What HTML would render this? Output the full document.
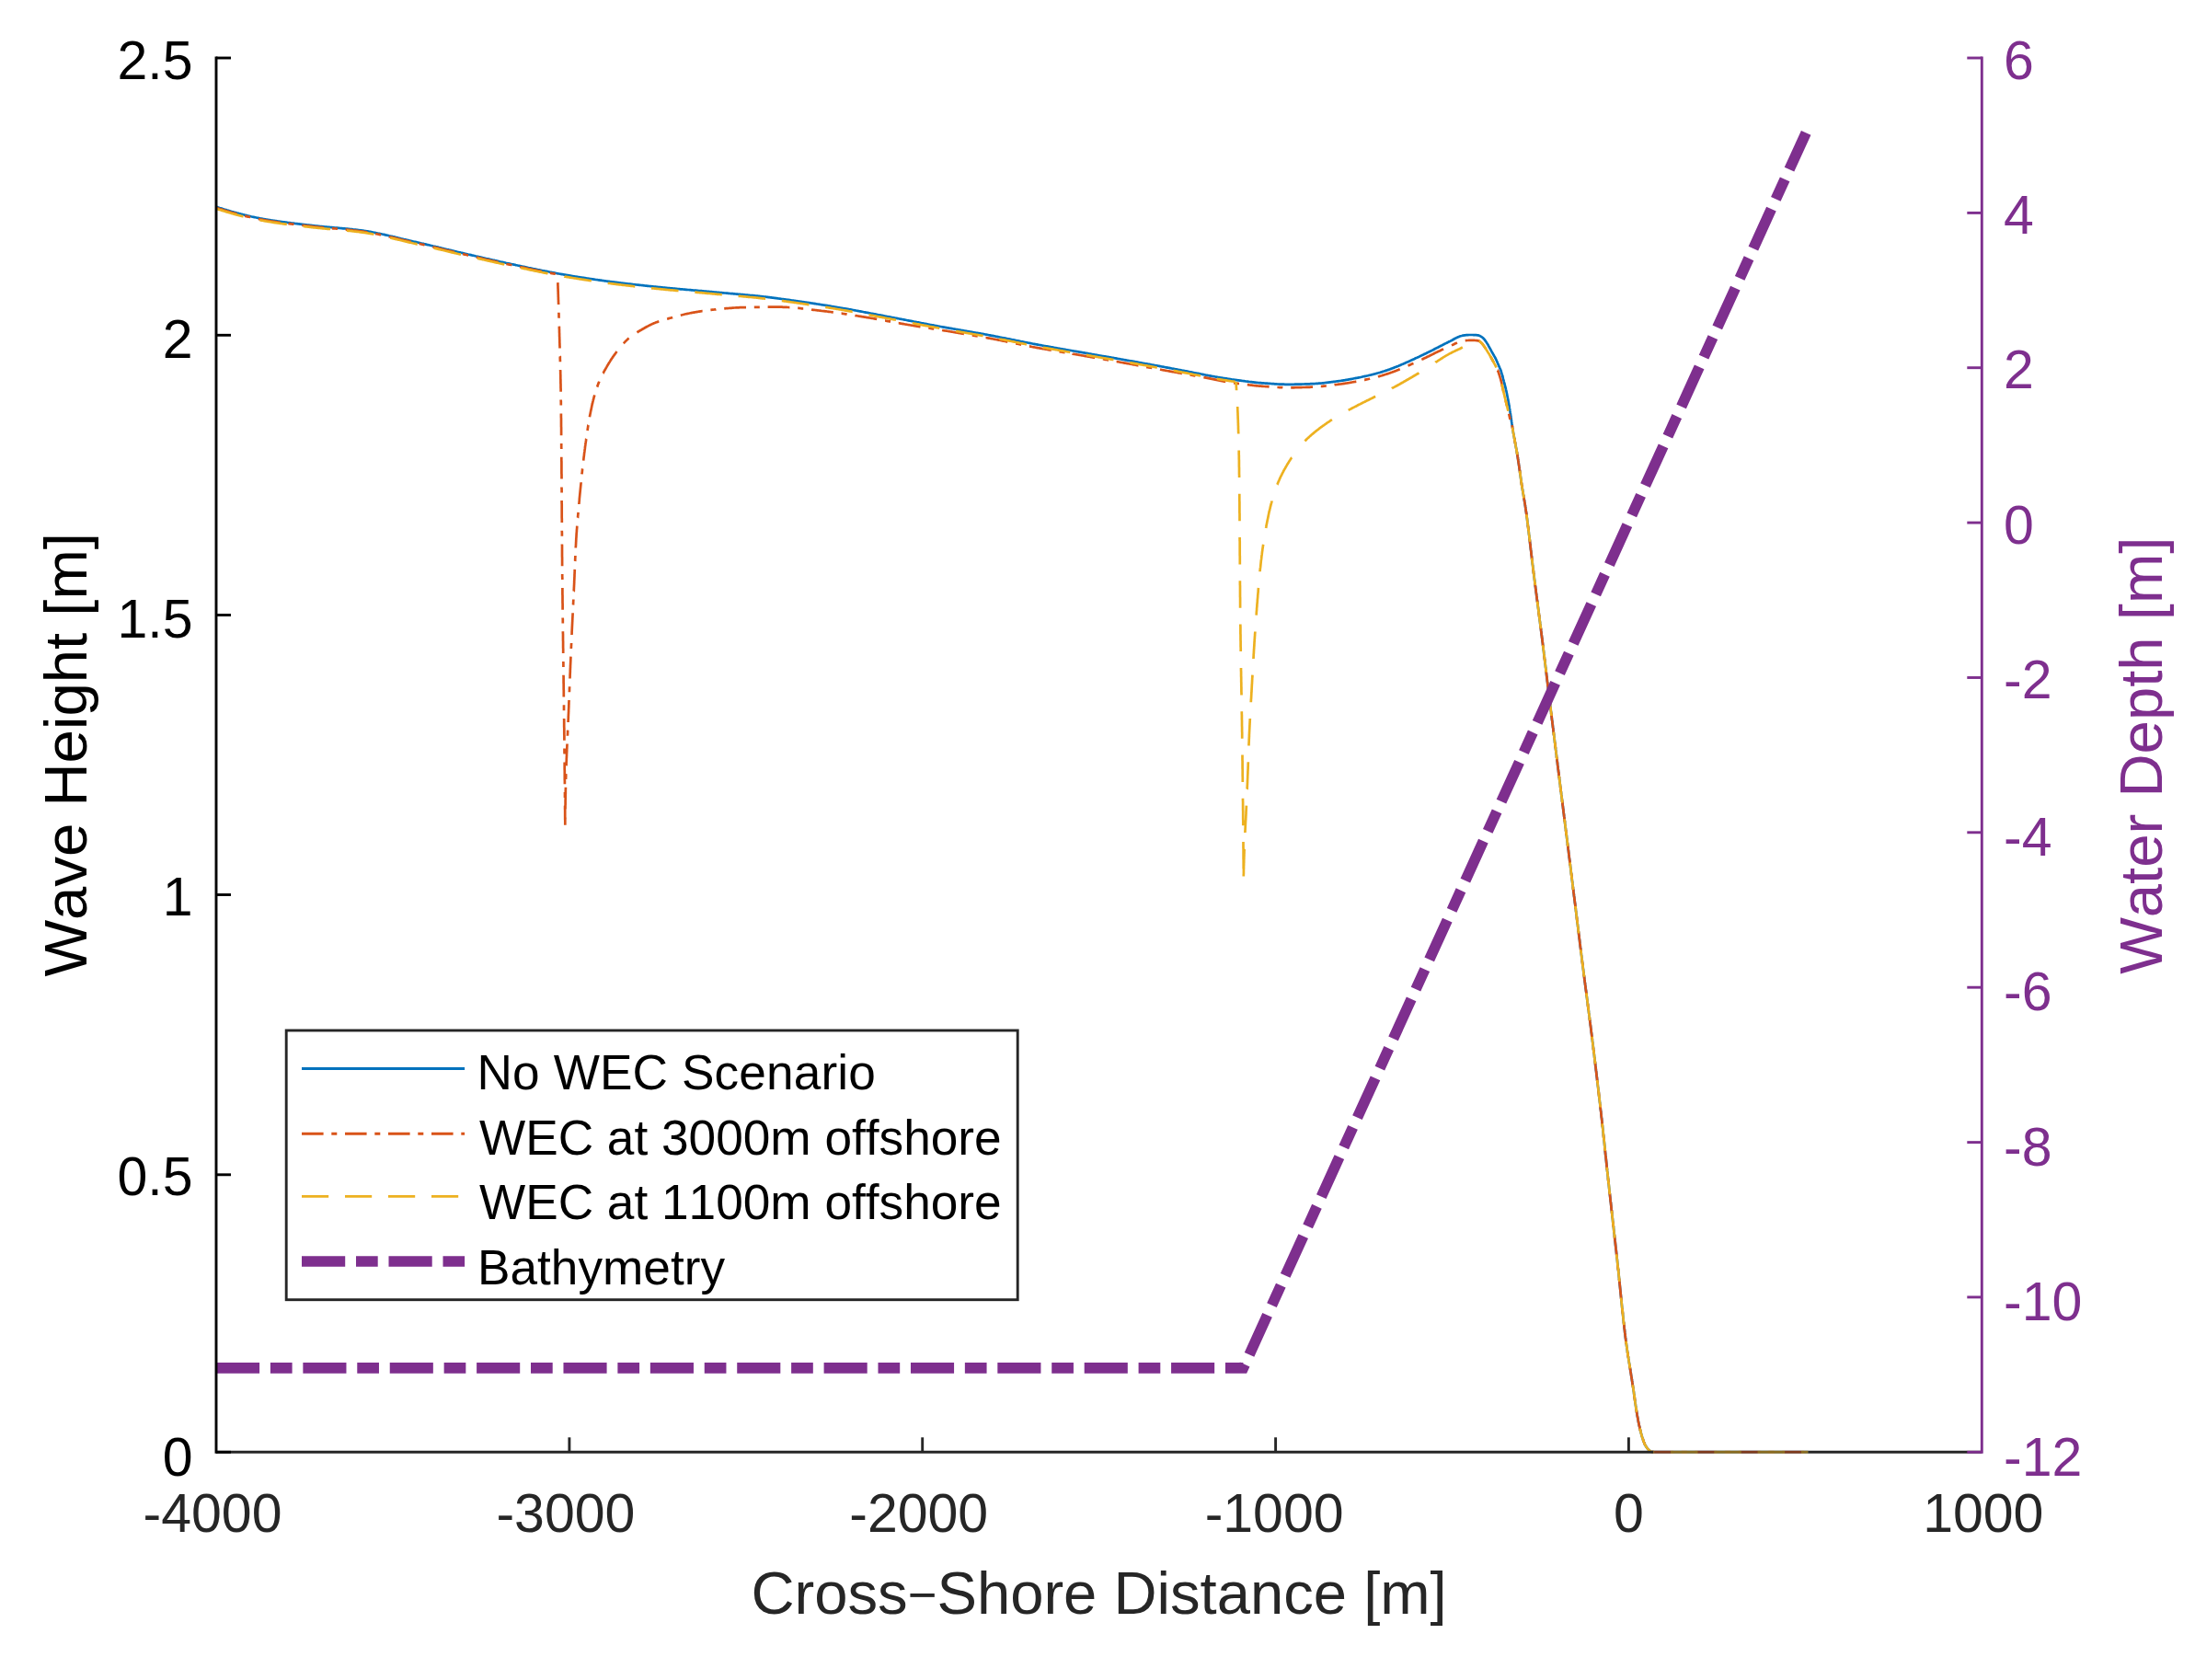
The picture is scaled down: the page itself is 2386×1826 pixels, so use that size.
<!DOCTYPE html>
<html lang="en"><head><meta charset="utf-8"><title>Wave height and bathymetry</title>
<style>html,body{margin:0;padding:0;background:#fff}svg{display:block}text{font-family:"Liberation Sans",sans-serif;font-kerning:none;font-variant-ligatures:none}</style></head><body>
<svg width="2386" height="1826" viewBox="0 0 2386 1826">
<rect width="2386" height="1826" fill="#fff"/>
<g fill="none" stroke-width="2.7" stroke-linejoin="round">
<path d="M235.0 224.8 236.0 225.1 236.9 225.4 237.9 225.7 238.8 226.0 239.8 226.3 240.8 226.6 241.7 226.9 242.7 227.2 243.6 227.5 244.6 227.8 245.6 228.1 246.5 228.4 247.5 228.7 248.4 228.9 249.4 229.2 250.4 229.5 251.3 229.8 252.3 230.1 253.3 230.3 254.2 230.6 255.2 230.9 256.2 231.1 257.1 231.4 258.1 231.7 259.1 231.9 260.0 232.2 261.0 232.4 262.0 232.7 262.9 232.9 263.9 233.2 264.9 233.4 265.9 233.7 266.8 233.9 267.8 234.1 268.8 234.4 269.7 234.6 270.7 234.8 271.7 235.0 272.7 235.3 273.6 235.5 274.6 235.7 275.6 235.9 276.6 236.1 277.5 236.3 278.5 236.5 279.5 236.7 280.5 236.9 281.5 237.1 282.4 237.3 283.4 237.5 284.4 237.6 285.4 237.8 286.4 238.0 287.3 238.2 288.3 238.3 289.3 238.5 290.3 238.7 291.3 238.8 292.3 239.0 293.2 239.1 294.2 239.3 295.2 239.5 296.2 239.6 297.2 239.8 298.2 239.9 299.2 240.1 300.2 240.2 301.1 240.3 302.1 240.5 303.1 240.6 304.1 240.8 305.1 240.9 306.1 241.0 307.1 241.2 308.1 241.3 309.1 241.4 310.1 241.6 311.1 241.7 312.1 241.8 313.1 242.0 314.0 242.1 315.0 242.2 316.0 242.3 317.0 242.5 318.0 242.6 319.0 242.7 320.0 242.8 321.0 243.0 322.0 243.1 323.0 243.2 324.0 243.3 325.0 243.4 326.0 243.6 327.0 243.7 328.0 243.8 329.0 243.9 330.0 244.0 331.0 244.1 332.0 244.3 333.0 244.4 334.0 244.5 334.9 244.6 335.9 244.7 336.9 244.8 337.9 244.9 338.9 245.1 339.9 245.2 340.9 245.3 341.9 245.4 342.9 245.5 343.9 245.6 344.9 245.7 345.9 245.8 346.9 245.9 347.9 246.0 348.9 246.1 349.9 246.2 350.9 246.3 351.9 246.4 352.9 246.5 353.9 246.6 354.9 246.7 355.9 246.8 356.9 246.8 357.9 246.9 358.9 247.0 359.9 247.1 360.9 247.2 361.9 247.3 362.9 247.4 363.9 247.5 364.9 247.5 365.9 247.6 366.8 247.7 367.8 247.8 368.8 247.9 369.8 248.0 370.8 248.1 371.8 248.2 372.8 248.3 373.8 248.4 374.8 248.4 375.8 248.5 376.8 248.6 377.8 248.7 378.8 248.8 379.8 248.9 380.8 249.0 381.8 249.1 382.8 249.2 383.8 249.4 384.8 249.5 385.8 249.6 386.8 249.7 387.8 249.8 388.7 249.9 389.7 250.0 390.7 250.2 391.7 250.3 392.7 250.4 393.7 250.6 394.7 250.7 395.7 250.8 396.6 251.0 397.6 251.1 398.6 251.3 399.6 251.4 400.6 251.6 401.6 251.8 402.6 251.9 403.5 252.1 404.5 252.3 405.5 252.5 406.5 252.7 407.5 252.9 408.4 253.1 409.4 253.3 410.4 253.5 411.4 253.7 412.4 253.9 413.3 254.1 414.3 254.3 415.3 254.5 416.3 254.7 417.3 254.9 418.2 255.1 419.2 255.4 420.2 255.6 421.2 255.8 422.1 256.0 423.1 256.3 424.1 256.5 425.1 256.7 426.0 256.9 427.0 257.2 428.0 257.4 429.0 257.6 430.0 257.9 430.9 258.1 431.9 258.3 432.9 258.6 433.9 258.8 434.8 259.0 435.8 259.3 436.8 259.5 437.8 259.7 438.7 260.0 439.7 260.2 440.7 260.4 441.7 260.7 442.6 260.9 443.6 261.1 444.6 261.4 445.6 261.6 446.5 261.8 447.5 262.0 448.5 262.3 449.5 262.5 450.4 262.7 451.4 262.9 452.4 263.1 453.4 263.4 454.3 263.6 455.3 263.8 456.3 264.0 457.3 264.3 458.2 264.5 459.2 264.7 460.2 264.9 461.2 265.2 462.1 265.4 463.1 265.6 464.1 265.9 465.1 266.1 466.0 266.3 467.0 266.5 468.0 266.8 469.0 267.0 469.9 267.2 470.9 267.5 471.9 267.7 472.8 267.9 473.8 268.2 474.8 268.4 475.8 268.6 476.7 268.9 477.7 269.1 478.7 269.3 479.7 269.6 480.6 269.8 481.6 270.0 482.6 270.3 483.6 270.5 484.5 270.7 485.5 271.0 486.5 271.2 487.4 271.4 488.4 271.7 489.4 271.9 490.4 272.1 491.3 272.4 492.3 272.6 493.3 272.8 494.3 273.1 495.2 273.3 496.2 273.5 497.2 273.8 498.2 274.0 499.1 274.2 500.1 274.4 501.1 274.7 502.1 274.9 503.0 275.1 504.0 275.3 505.0 275.6 506.0 275.8 506.9 276.0 507.9 276.2 508.9 276.5 509.9 276.7 510.8 276.9 511.8 277.1 512.8 277.4 513.8 277.6 514.7 277.8 515.7 278.0 516.7 278.3 517.7 278.5 518.6 278.7 519.6 278.9 520.6 279.2 521.6 279.4 522.5 279.6 523.5 279.8 524.5 280.1 525.5 280.3 526.4 280.5 527.4 280.7 528.4 281.0 529.4 281.2 530.3 281.4 531.3 281.6 532.3 281.8 533.3 282.1 534.2 282.3 535.2 282.5 536.2 282.7 537.2 282.9 538.1 283.2 539.1 283.4 540.1 283.6 541.1 283.8 542.1 284.0 543.0 284.3 544.0 284.5 545.0 284.7 546.0 284.9 546.9 285.1 547.9 285.3 548.9 285.5 549.9 285.8 550.8 286.0 551.8 286.2 552.8 286.4 553.8 286.6 554.8 286.8 555.7 287.0 556.7 287.2 557.7 287.4 558.7 287.6 559.7 287.8 560.6 288.1 561.6 288.3 562.6 288.5 563.6 288.7 564.5 288.9 565.5 289.1 566.5 289.3 567.5 289.5 568.5 289.7 569.4 289.9 570.4 290.1 571.4 290.3 572.4 290.5 573.4 290.7 574.3 291.0 575.3 291.2 576.3 291.4 577.3 291.6 578.3 291.8 579.2 292.0 580.2 292.2 581.2 292.4 582.2 292.6 583.2 292.8 584.1 293.0 585.1 293.2 586.1 293.4 587.1 293.6 588.1 293.8 589.0 294.0 590.0 294.2 591.0 294.4 592.0 294.6 593.0 294.8 594.0 294.9 594.9 295.1 595.9 295.3 596.9 295.5 597.9 295.7 598.9 295.9 599.9 296.1 600.8 296.3 601.8 296.4 602.8 296.6 603.8 296.8 604.8 297.0 605.8 297.2 606.7 297.4 607.7 297.5 608.7 297.7 609.7 297.9 610.7 298.1 611.7 298.2 612.6 298.4 613.6 298.6 614.6 298.7 615.6 298.9 616.6 299.1 617.6 299.2 618.6 299.4 619.6 299.6 620.5 299.7 621.5 299.9 622.5 300.0 623.5 300.2 624.5 300.4 625.5 300.5 626.5 300.7 627.5 300.8 628.4 301.0 629.4 301.2 630.4 301.3 631.4 301.5 632.4 301.6 633.4 301.8 634.4 301.9 635.4 302.1 636.4 302.2 637.3 302.4 638.3 302.5 639.3 302.7 640.3 302.8 641.3 303.0 642.3 303.1 643.3 303.3 644.3 303.4 645.3 303.6 646.3 303.7 647.2 303.9 648.2 304.0 649.2 304.1 650.2 304.3 651.2 304.4 652.2 304.6 653.2 304.7 654.2 304.8 655.2 305.0 656.2 305.1 657.2 305.3 658.1 305.4 659.1 305.5 660.1 305.7 661.1 305.8 662.1 305.9 663.1 306.0 664.1 306.2 665.1 306.3 666.1 306.4 667.1 306.6 668.1 306.7 669.1 306.8 670.1 306.9 671.0 307.1 672.0 307.2 673.0 307.3 674.0 307.4 675.0 307.5 676.0 307.7 677.0 307.8 678.0 307.9 679.0 308.0 680.0 308.1 681.0 308.3 682.0 308.4 683.0 308.5 684.0 308.6 685.0 308.7 685.9 308.8 686.9 308.9 687.9 309.0 688.9 309.2 689.9 309.3 690.9 309.4 691.9 309.5 692.9 309.6 693.9 309.7 694.9 309.8 695.9 309.9 696.9 310.0 697.9 310.1 698.9 310.2 699.9 310.3 700.9 310.5 701.9 310.6 702.9 310.7 703.9 310.8 704.9 310.9 705.9 311.0 706.8 311.1 707.8 311.2 708.8 311.3 709.8 311.4 710.8 311.5 711.8 311.6 712.8 311.7 713.8 311.8 714.8 311.9 715.8 312.0 716.8 312.1 717.8 312.2 718.8 312.3 719.8 312.4 720.8 312.5 721.8 312.6 722.8 312.7 723.8 312.8 724.8 312.9 725.8 313.0 726.8 313.1 727.8 313.2 728.8 313.3 729.7 313.3 730.7 313.4 731.7 313.5 732.7 313.6 733.7 313.7 734.7 313.8 735.7 313.9 736.7 314.0 737.7 314.1 738.7 314.2 739.7 314.3 740.7 314.3 741.7 314.4 742.7 314.5 743.7 314.6 744.7 314.7 745.7 314.8 746.7 314.9 747.7 315.0 748.7 315.0 749.7 315.1 750.7 315.2 751.7 315.3 752.7 315.4 753.7 315.5 754.7 315.6 755.7 315.6 756.7 315.7 757.7 315.8 758.7 315.9 759.7 316.0 760.6 316.1 761.6 316.2 762.6 316.2 763.6 316.3 764.6 316.4 765.6 316.5 766.6 316.6 767.6 316.7 768.6 316.8 769.6 316.9 770.6 316.9 771.6 317.0 772.6 317.1 773.6 317.2 774.6 317.3 775.6 317.4 776.6 317.5 777.6 317.6 778.6 317.7 779.6 317.8 780.6 317.8 781.6 317.9 782.6 318.0 783.6 318.1 784.6 318.2 785.6 318.3 786.6 318.4 787.6 318.5 788.6 318.5 789.6 318.6 790.6 318.7 791.6 318.8 792.5 318.9 793.5 319.0 794.5 319.1 795.5 319.2 796.5 319.2 797.5 319.3 798.5 319.4 799.5 319.5 800.5 319.6 801.5 319.7 802.5 319.8 803.5 319.9 804.5 319.9 805.5 320.0 806.5 320.1 807.5 320.2 808.5 320.3 809.5 320.4 810.5 320.5 811.5 320.6 812.5 320.7 813.5 320.8 814.5 320.9 815.5 321.0 816.5 321.0 817.5 321.1 818.5 321.2 819.5 321.3 820.5 321.4 821.4 321.5 822.4 321.6 823.4 321.7 824.4 321.8 825.4 321.9 826.4 322.1 827.4 322.2 828.4 322.3 829.4 322.4 830.4 322.5 831.4 322.6 832.4 322.7 833.4 322.8 834.4 322.9 835.4 323.1 836.4 323.2 837.4 323.3 838.3 323.4 839.3 323.6 840.3 323.7 841.3 323.8 842.3 323.9 843.3 324.1 844.3 324.2 845.3 324.3 846.3 324.5 847.3 324.6 848.3 324.7 849.3 324.9 850.3 325.0 851.2 325.1 852.2 325.3 853.2 325.4 854.2 325.5 855.2 325.7 856.2 325.8 857.2 325.9 858.2 326.1 859.2 326.2 860.2 326.4 861.2 326.5 862.2 326.6 863.1 326.8 864.1 326.9 865.1 327.0 866.1 327.2 867.1 327.3 868.1 327.5 869.1 327.6 870.1 327.8 871.1 327.9 872.1 328.0 873.1 328.2 874.0 328.3 875.0 328.5 876.0 328.6 877.0 328.8 878.0 328.9 879.0 329.1 880.0 329.2 881.0 329.3 882.0 329.5 883.0 329.6 883.9 329.8 884.9 329.9 885.9 330.1 886.9 330.2 887.9 330.4 888.9 330.5 889.9 330.7 890.9 330.8 891.9 331.0 892.8 331.2 893.8 331.3 894.8 331.5 895.8 331.6 896.8 331.8 897.8 331.9 898.8 332.1 899.8 332.2 900.8 332.4 901.7 332.6 902.7 332.7 903.7 332.9 904.7 333.0 905.7 333.2 906.7 333.4 907.7 333.5 908.7 333.7 909.6 333.9 910.6 334.0 911.6 334.2 912.6 334.4 913.6 334.5 914.6 334.7 915.6 334.9 916.5 335.0 917.5 335.2 918.5 335.4 919.5 335.6 920.5 335.7 921.5 335.9 922.5 336.1 923.4 336.3 924.4 336.4 925.4 336.6 926.4 336.8 927.4 337.0 928.4 337.2 929.3 337.3 930.3 337.5 931.3 337.7 932.3 337.9 933.3 338.1 934.3 338.3 935.2 338.4 936.2 338.6 937.2 338.8 938.2 339.0 939.2 339.2 940.2 339.4 941.1 339.6 942.1 339.7 943.1 339.9 944.1 340.1 945.1 340.3 946.1 340.5 947.0 340.7 948.0 340.9 949.0 341.1 950.0 341.2 951.0 341.4 952.0 341.6 952.9 341.8 953.9 342.0 954.9 342.2 955.9 342.4 956.9 342.6 957.9 342.7 958.8 342.9 959.8 343.1 960.8 343.3 961.8 343.5 962.8 343.7 963.8 343.9 964.7 344.0 965.7 344.2 966.7 344.4 967.7 344.6 968.7 344.8 969.7 345.0 970.6 345.2 971.6 345.3 972.6 345.5 973.6 345.7 974.6 345.9 975.6 346.1 976.5 346.3 977.5 346.5 978.5 346.7 979.5 346.8 980.5 347.0 981.5 347.2 982.4 347.4 983.4 347.6 984.4 347.8 985.4 348.0 986.4 348.2 987.3 348.4 988.3 348.6 989.3 348.7 990.3 348.9 991.3 349.1 992.3 349.3 993.2 349.5 994.2 349.7 995.2 349.9 996.2 350.1 997.2 350.3 998.2 350.4 999.1 350.6 1000.1 350.8 1001.1 351.0 1002.1 351.2 1003.1 351.4 1004.1 351.6 1005.0 351.8 1006.0 351.9 1007.0 352.1 1008.0 352.3 1009.0 352.5 1010.0 352.7 1010.9 352.9 1011.9 353.0 1012.9 353.2 1013.9 353.4 1014.9 353.6 1015.9 353.8 1016.8 354.0 1017.8 354.1 1018.8 354.3 1019.8 354.5 1020.8 354.7 1021.8 354.9 1022.7 355.0 1023.7 355.2 1024.7 355.4 1025.7 355.6 1026.7 355.7 1027.7 355.9 1028.7 356.1 1029.6 356.3 1030.6 356.4 1031.6 356.6 1032.6 356.8 1033.6 356.9 1034.6 357.1 1035.6 357.3 1036.5 357.5 1037.5 357.6 1038.5 357.8 1039.5 358.0 1040.5 358.1 1041.5 358.3 1042.5 358.5 1043.5 358.6 1044.4 358.8 1045.4 359.0 1046.4 359.1 1047.4 359.3 1048.4 359.5 1049.4 359.7 1050.4 359.8 1051.3 360.0 1052.3 360.2 1053.3 360.3 1054.3 360.5 1055.3 360.7 1056.3 360.8 1057.3 361.0 1058.2 361.2 1059.2 361.4 1060.2 361.5 1061.2 361.7 1062.2 361.9 1063.2 362.1 1064.2 362.2 1065.1 362.4 1066.1 362.6 1067.1 362.8 1068.1 362.9 1069.1 363.1 1070.1 363.3 1071.1 363.5 1072.0 363.6 1073.0 363.8 1074.0 364.0 1075.0 364.2 1076.0 364.4 1077.0 364.6 1077.9 364.8 1078.9 364.9 1079.9 365.1 1080.9 365.3 1081.9 365.5 1082.8 365.7 1083.8 365.9 1084.8 366.1 1085.8 366.3 1086.8 366.5 1087.8 366.7 1088.7 366.9 1089.7 367.0 1090.7 367.2 1091.7 367.4 1092.7 367.6 1093.6 367.8 1094.6 368.0 1095.6 368.2 1096.6 368.4 1097.6 368.6 1098.6 368.8 1099.5 369.0 1100.5 369.2 1101.5 369.4 1102.5 369.6 1103.5 369.8 1104.4 370.0 1105.4 370.2 1106.4 370.4 1107.4 370.6 1108.4 370.8 1109.3 371.0 1110.3 371.2 1111.3 371.4 1112.3 371.6 1113.3 371.8 1114.3 372.0 1115.2 372.2 1116.2 372.3 1117.2 372.5 1118.2 372.7 1119.2 372.9 1120.1 373.1 1121.1 373.3 1122.1 373.5 1123.1 373.7 1124.1 373.9 1125.1 374.1 1126.0 374.2 1127.0 374.4 1128.0 374.6 1129.0 374.8 1130.0 375.0 1131.0 375.1 1131.9 375.3 1132.9 375.5 1133.9 375.7 1134.9 375.9 1135.9 376.0 1136.9 376.2 1137.9 376.4 1138.8 376.6 1139.8 376.7 1140.8 376.9 1141.8 377.1 1142.8 377.3 1143.8 377.4 1144.7 377.6 1145.7 377.8 1146.7 378.0 1147.7 378.1 1148.7 378.3 1149.7 378.5 1150.7 378.7 1151.6 378.8 1152.6 379.0 1153.6 379.2 1154.6 379.3 1155.6 379.5 1156.6 379.7 1157.6 379.8 1158.6 380.0 1159.5 380.2 1160.5 380.4 1161.5 380.5 1162.5 380.7 1163.5 380.9 1164.5 381.0 1165.5 381.2 1166.4 381.4 1167.4 381.5 1168.4 381.7 1169.4 381.9 1170.4 382.1 1171.4 382.2 1172.4 382.4 1173.3 382.6 1174.3 382.7 1175.3 382.9 1176.3 383.1 1177.3 383.3 1178.3 383.4 1179.3 383.6 1180.2 383.8 1181.2 383.9 1182.2 384.1 1183.2 384.3 1184.2 384.5 1185.2 384.6 1186.2 384.8 1187.1 385.0 1188.1 385.2 1189.1 385.3 1190.1 385.5 1191.1 385.7 1192.1 385.8 1193.1 386.0 1194.0 386.2 1195.0 386.4 1196.0 386.5 1197.0 386.7 1198.0 386.9 1199.0 387.0 1200.0 387.2 1200.9 387.4 1201.9 387.6 1202.9 387.7 1203.9 387.9 1204.9 388.1 1205.9 388.2 1206.9 388.4 1207.8 388.6 1208.8 388.8 1209.8 388.9 1210.8 389.1 1211.8 389.3 1212.8 389.4 1213.8 389.6 1214.7 389.8 1215.7 390.0 1216.7 390.1 1217.7 390.3 1218.7 390.5 1219.7 390.7 1220.7 390.8 1221.6 391.0 1222.6 391.2 1223.6 391.3 1224.6 391.5 1225.6 391.7 1226.6 391.9 1227.6 392.0 1228.5 392.2 1229.5 392.4 1230.5 392.6 1231.5 392.7 1232.5 392.9 1233.5 393.1 1234.5 393.3 1235.4 393.4 1236.4 393.6 1237.4 393.8 1238.4 394.0 1239.4 394.2 1240.4 394.3 1241.3 394.5 1242.3 394.7 1243.3 394.9 1244.3 395.0 1245.3 395.2 1246.3 395.4 1247.3 395.6 1248.2 395.8 1249.2 395.9 1250.2 396.1 1251.2 396.3 1252.2 396.5 1253.2 396.7 1254.1 396.8 1255.1 397.0 1256.1 397.2 1257.1 397.4 1258.1 397.6 1259.1 397.7 1260.1 397.9 1261.0 398.1 1262.0 398.3 1263.0 398.5 1264.0 398.6 1265.0 398.8 1266.0 399.0 1266.9 399.2 1267.9 399.4 1268.9 399.6 1269.9 399.7 1270.9 399.9 1271.9 400.1 1272.8 400.3 1273.8 400.5 1274.8 400.7 1275.8 400.8 1276.8 401.0 1277.8 401.2 1278.7 401.4 1279.7 401.6 1280.7 401.8 1281.7 402.0 1282.7 402.1 1283.7 402.3 1284.6 402.5 1285.6 402.7 1286.6 402.9 1287.6 403.1 1288.6 403.3 1289.6 403.4 1290.5 403.6 1291.5 403.8 1292.5 404.0 1293.5 404.2 1294.5 404.4 1295.5 404.6 1296.4 404.8 1297.4 405.0 1298.4 405.2 1299.4 405.4 1300.4 405.5 1301.3 405.7 1302.3 405.9 1303.3 406.1 1304.3 406.3 1305.3 406.5 1306.3 406.7 1307.2 406.9 1308.2 407.1 1309.2 407.3 1310.2 407.5 1311.2 407.7 1312.1 407.9 1313.1 408.1 1314.1 408.3 1315.1 408.4 1316.1 408.6 1317.1 408.8 1318.0 409.0 1319.0 409.1 1320.0 409.3 1321.0 409.5 1322.0 409.7 1323.0 409.8 1324.0 410.0 1325.0 410.2 1325.9 410.3 1326.9 410.5 1327.9 410.6 1328.9 410.8 1329.9 411.0 1330.9 411.1 1331.9 411.3 1332.9 411.4 1333.8 411.6 1334.8 411.8 1335.8 411.9 1336.8 412.1 1337.8 412.2 1338.8 412.4 1339.8 412.5 1340.8 412.6 1341.8 412.8 1342.8 412.9 1343.7 413.1 1344.7 413.2 1345.7 413.3 1346.7 413.4 1347.7 413.6 1348.7 413.7 1349.7 413.8 1350.7 414.0 1351.7 414.1 1352.7 414.2 1353.7 414.4 1354.7 414.5 1355.7 414.6 1356.6 414.7 1357.6 414.9 1358.6 415.0 1359.6 415.1 1360.6 415.2 1361.6 415.3 1362.6 415.4 1363.6 415.6 1364.6 415.7 1365.6 415.8 1366.6 415.9 1367.6 416.0 1368.6 416.1 1369.6 416.1 1370.6 416.2 1371.6 416.3 1372.6 416.4 1373.6 416.4 1374.6 416.5 1375.6 416.6 1376.6 416.7 1377.6 416.7 1378.6 416.8 1379.6 416.9 1380.6 416.9 1381.6 417.0 1382.6 417.1 1383.6 417.2 1384.6 417.2 1385.6 417.3 1386.6 417.3 1387.6 417.4 1388.6 417.5 1389.6 417.5 1390.6 417.6 1391.6 417.6 1392.6 417.6 1393.6 417.7 1394.6 417.7 1395.6 417.7 1396.6 417.8 1397.6 417.8 1398.6 417.8 1399.6 417.8 1400.6 417.8 1401.6 417.8 1402.6 417.8 1403.6 417.8 1404.6 417.8 1405.6 417.8 1406.6 417.8 1407.6 417.7 1408.6 417.7 1409.6 417.7 1410.6 417.7 1411.6 417.7 1412.6 417.6 1413.6 417.6 1414.6 417.6 1415.6 417.5 1416.6 417.5 1417.6 417.5 1418.6 417.4 1419.6 417.4 1420.6 417.4 1421.6 417.3 1422.6 417.3 1423.6 417.3 1424.6 417.2 1425.6 417.2 1426.6 417.1 1427.6 417.1 1428.6 417.1 1429.6 417.0 1430.6 416.9 1431.6 416.9 1432.6 416.8 1433.5 416.7 1434.5 416.6 1435.5 416.6 1436.5 416.5 1437.5 416.4 1438.5 416.3 1439.5 416.2 1440.5 416.0 1441.5 415.9 1442.5 415.8 1443.5 415.7 1444.5 415.6 1445.5 415.4 1446.5 415.3 1447.5 415.2 1448.5 415.1 1449.5 414.9 1450.5 414.8 1451.5 414.7 1452.4 414.5 1453.4 414.4 1454.4 414.3 1455.4 414.1 1456.4 414.0 1457.4 413.9 1458.4 413.7 1459.4 413.6 1460.4 413.4 1461.4 413.3 1462.3 413.1 1463.3 412.9 1464.3 412.8 1465.3 412.6 1466.3 412.4 1467.3 412.2 1468.3 412.1 1469.3 411.9 1470.2 411.7 1471.2 411.5 1472.2 411.3 1473.2 411.1 1474.2 410.9 1475.2 410.8 1476.1 410.6 1477.1 410.4 1478.1 410.2 1479.1 410.0 1480.1 409.8 1481.0 409.5 1482.0 409.3 1483.0 409.1 1484.0 408.9 1484.9 408.7 1485.9 408.5 1486.9 408.3 1487.9 408.0 1488.8 407.8 1489.8 407.6 1490.8 407.3 1491.8 407.1 1492.7 406.8 1493.7 406.6 1494.7 406.3 1495.6 406.1 1496.6 405.8 1497.6 405.5 1498.5 405.3 1499.5 405.0 1500.5 404.7 1501.4 404.4 1502.4 404.1 1503.3 403.8 1504.3 403.5 1505.2 403.2 1506.2 402.9 1507.1 402.6 1508.1 402.3 1509.0 401.9 1510.0 401.6 1510.9 401.3 1511.8 400.9 1512.8 400.6 1513.7 400.2 1514.7 399.9 1515.6 399.5 1516.5 399.1 1517.5 398.8 1518.4 398.4 1519.3 398.1 1520.3 397.7 1521.2 397.3 1522.1 396.9 1523.0 396.5 1523.9 396.1 1524.9 395.7 1525.8 395.3 1526.7 394.9 1527.6 394.5 1528.5 394.1 1529.4 393.7 1530.4 393.3 1531.3 392.9 1532.2 392.5 1533.1 392.1 1534.0 391.6 1534.9 391.2 1535.8 390.8 1536.7 390.4 1537.6 390.0 1538.5 389.5 1539.4 389.1 1540.4 388.7 1541.3 388.3 1542.2 387.9 1543.1 387.4 1544.0 387.0 1544.9 386.6 1545.8 386.1 1546.7 385.7 1547.6 385.3 1548.5 384.8 1549.4 384.4 1550.3 384.0 1551.2 383.5 1552.1 383.1 1553.0 382.6 1553.9 382.2 1554.8 381.8 1555.7 381.3 1556.6 380.9 1557.5 380.4 1558.4 380.0 1559.2 379.5 1560.1 379.0 1561.0 378.6 1561.9 378.1 1562.8 377.7 1563.7 377.2 1564.6 376.7 1565.5 376.3 1566.4 375.8 1567.3 375.4 1568.1 374.9 1569.0 374.5 1569.9 374.0 1570.8 373.6 1571.7 373.1 1572.6 372.7 1573.5 372.2 1574.4 371.8 1575.3 371.3 1576.2 370.9 1577.1 370.4 1578.0 370.0 1578.9 369.5 1579.7 369.0 1580.6 368.5 1581.5 368.0 1582.4 367.6 1583.3 367.1 1584.2 366.7 1585.1 366.3 1586.0 365.9 1586.9 365.5 1587.9 365.2 1588.9 365.0 1589.8 364.7 1590.8 364.6 1591.8 364.4 1592.8 364.3 1593.8 364.2 1594.8 364.2 1595.8 364.1 1596.8 364.0 1597.8 364.0 1598.8 364.0 1599.8 364.0 1600.8 364.0 1601.8 364.1 1602.8 364.1 1603.8 364.1 1604.8 364.2 1605.8 364.3 1606.8 364.4 1607.7 364.7 1608.7 365.1 1609.6 365.6 1610.5 366.2 1611.3 366.7 1612.0 367.3 1612.7 368.0 1613.3 368.7 1614.0 369.5 1614.6 370.4 1615.2 371.2 1615.8 372.1 1616.3 372.9 1616.9 373.8 1617.4 374.6 1617.9 375.5 1618.3 376.4 1618.8 377.3 1619.3 378.1 1619.8 379.0 1620.3 379.9 1620.8 380.8 1621.2 381.6 1621.7 382.5 1622.2 383.4 1622.7 384.3 1623.2 385.1 1623.7 386.0 1624.2 386.9 1624.7 387.7 1625.2 388.6 1625.6 389.5 1626.1 390.4 1626.5 391.3 1626.9 392.2 1627.3 393.1 1627.7 394.0 1628.1 395.0 1628.5 395.9 1628.9 396.8 1629.3 397.7 1629.7 398.6 1630.1 399.6 1630.5 400.5 1630.9 401.4 1631.3 402.3 1631.6 403.3 1631.9 404.2 1632.2 405.2 1632.5 406.1 1632.8 407.1 1633.1 408.0 1633.3 409.0 1633.6 410.0 1633.8 411.0 1634.0 411.9 1634.3 412.9 1634.6 413.9 1634.8 414.8 1635.1 415.8 1635.3 416.8 1635.6 417.7 1635.8 418.7 1636.1 419.7 1636.3 420.7 1636.6 421.6 1636.8 422.6 1637.0 423.6 1637.3 424.5 1637.5 425.5 1637.7 426.5 1637.9 427.5 1638.1 428.4 1638.3 429.4 1638.5 430.4 1638.7 431.4 1638.9 432.4 1639.1 433.4 1639.3 434.3 1639.5 435.3 1639.6 436.3 1639.8 437.3 1640.0 438.3 1640.2 439.3 1640.3 440.3 1640.5 441.2 1640.7 442.2 1640.8 443.2 1641.0 444.2 1641.2 445.2 1641.3 446.2 1641.5 447.2 1641.6 448.2 1641.8 449.1 1641.9 450.1 1642.1 451.1 1642.2 452.1 1642.3 453.1 1642.5 454.1 1642.6 455.1 1642.8 456.1 1642.9 457.1 1643.1 458.1 1643.2 459.0 1643.4 460.0 1643.5 461.0 1643.7 462.0 1643.8 463.0 1644.0 464.0 1644.1 465.0 1644.3 466.0 1644.4 467.0 1644.6 467.9 1644.8 468.9 1644.9 469.9 1645.1 470.9 1645.3 471.9 1645.5 472.9 1645.6 473.9 1645.8 474.8 1646.0 475.8 1646.2 476.8 1646.4 477.8 1646.5 478.8 1646.7 479.8 1646.9 480.7 1647.1 481.7 1647.3 482.7 1647.5 483.7 1647.6 484.7 1647.8 485.7 1648.0 486.7 1648.2 487.6 1648.4 488.6 1648.5 489.6 1648.7 490.6 1648.9 491.6 1649.1 492.6 1649.2 493.5 1649.4 494.5 1649.6 495.5 1649.7 496.5 1649.9 497.5 1650.0 498.5 1650.2 499.5 1650.3 500.5 1650.5 501.5 1650.6 502.4 1650.8 503.4 1650.9 504.4 1651.1 505.4 1651.2 506.4 1651.4 507.4 1651.5 508.4 1651.6 509.4 1651.8 510.4 1651.9 511.4 1652.1 512.3 1652.2 513.3 1652.3 514.3 1652.5 515.3 1652.6 516.3 1652.8 517.3 1652.9 518.3 1653.0 519.3 1653.2 520.3 1653.3 521.3 1653.5 522.3 1653.6 523.2 1653.7 524.2 1653.9 525.2 1654.0 526.2 1654.2 527.2 1654.3 528.2 1654.5 529.2 1654.6 530.2 1654.8 531.2 1655.0 532.1 1655.1 533.1 1655.3 534.1 1655.5 535.1 1655.6 536.1 1655.8 537.1 1656.0 538.1 1656.2 539.1 1656.3 540.0 1656.5 541.0 1656.7 542.0 1656.8 543.0 1657.0 544.0 1657.2 545.0 1657.3 546.0 1657.5 546.9 1657.7 547.9 1657.8 548.9 1658.0 549.9 1658.1 550.9 1658.3 551.9 1658.4 552.9 1658.6 553.9 1658.7 554.9 1658.8 555.8 1659.0 556.8 1659.1 557.8 1659.3 558.8 1659.4 559.8 1659.5 560.8 1659.7 561.8 1659.8 562.8 1659.9 563.8 1660.1 564.8 1660.2 565.8 1660.3 566.8 1660.4 567.7 1660.6 568.7 1660.7 569.7 1660.8 570.7 1660.9 571.7 1661.1 572.7 1661.2 573.7 1661.3 574.7 1661.4 575.7 1661.6 576.7 1661.7 577.7 1661.8 578.7 1661.9 579.7 1662.0 580.7 1662.2 581.6 1662.3 582.6 1662.4 583.6 1662.5 584.6 1662.6 585.6 1662.8 586.6 1662.9 587.6 1663.0 588.6 1663.1 589.6 1663.2 590.6 1663.3 591.6 1663.5 592.6 1663.6 593.6 1663.7 594.6 1663.8 595.6 1663.9 596.6 1664.0 597.5 1664.2 598.5 1664.3 599.5 1664.4 600.5 1664.5 601.5 1664.6 602.5 1664.7 603.5 1664.9 604.5 1665.0 605.5 1665.1 606.5 1665.2 607.5 1665.3 608.5 1665.5 609.5 1665.6 610.5 1665.7 611.5 1665.8 612.5 1665.9 613.5 1666.1 614.4 1666.2 615.4 1666.3 616.4 1666.4 617.4 1666.5 618.4 1666.7 619.4 1666.8 620.4 1666.9 621.4 1667.0 622.4 1667.2 623.4 1667.3 624.4 1667.4 625.4 1667.5 626.4 1667.7 627.4 1667.8 628.3 1667.9 629.3 1668.0 630.3 1668.2 631.3 1668.3 632.3 1668.4 633.3 1668.6 634.3 1668.7 635.3 1668.8 636.3 1668.9 637.3 1669.1 638.3 1669.2 639.3 1669.3 640.3 1669.5 641.2 1669.6 642.2 1669.7 643.2 1669.8 644.2 1670.0 645.2 1670.1 646.2 1670.2 647.2 1670.4 648.2 1670.5 649.2 1670.6 650.2 1670.7 651.2 1670.9 652.2 1671.0 653.2 1671.1 654.1 1671.3 655.1 1671.4 656.1 1671.5 657.1 1671.6 658.1 1671.8 659.1 1671.9 660.1 1672.0 661.1 1672.2 662.1 1672.3 663.1 1672.4 664.1 1672.6 665.1 1672.7 666.1 1672.8 667.0 1672.9 668.0 1673.1 669.0 1673.2 670.0 1673.3 671.0 1673.5 672.0 1673.6 673.0 1673.7 674.0 1673.8 675.0 1674.0 676.0 1674.1 677.0 1674.2 678.0 1674.4 679.0 1674.5 679.9 1674.6 680.9 1674.7 681.9 1674.9 682.9 1675.0 683.9 1675.1 684.9 1675.2 685.9 1675.4 686.9 1675.5 687.9 1675.6 688.9 1675.7 689.9 1675.9 690.9 1676.0 691.9 1676.1 692.9 1676.2 693.8 1676.4 694.8 1676.5 695.8 1676.6 696.8 1676.7 697.8 1676.9 698.8 1677.0 699.8 1677.1 700.8 1677.2 701.8 1677.4 702.8 1677.5 703.8 1677.6 704.8 1677.7 705.8 1677.8 706.8 1678.0 707.7 1678.1 708.7 1678.2 709.7 1678.3 710.7 1678.5 711.7 1678.6 712.7 1678.7 713.7 1678.8 714.7 1678.9 715.7 1679.1 716.7 1679.2 717.7 1679.3 718.7 1679.4 719.7 1679.5 720.7 1679.7 721.7 1679.8 722.6 1679.9 723.6 1680.0 724.6 1680.1 725.6 1680.3 726.6 1680.4 727.6 1680.5 728.6 1680.6 729.6 1680.7 730.6 1680.9 731.6 1681.0 732.6 1681.1 733.6 1681.2 734.6 1681.3 735.6 1681.5 736.6 1681.6 737.6 1681.7 738.5 1681.8 739.5 1681.9 740.5 1682.1 741.5 1682.2 742.5 1682.3 743.5 1682.4 744.5 1682.5 745.5 1682.7 746.5 1682.8 747.5 1682.9 748.5 1683.0 749.5 1683.1 750.5 1683.3 751.5 1683.4 752.5 1683.5 753.4 1683.6 754.4 1683.7 755.4 1683.9 756.4 1684.0 757.4 1684.1 758.4 1684.2 759.4 1684.3 760.4 1684.5 761.4 1684.6 762.4 1684.7 763.4 1684.8 764.4 1685.0 765.4 1685.1 766.4 1685.2 767.4 1685.3 768.3 1685.4 769.3 1685.6 770.3 1685.7 771.3 1685.8 772.3 1685.9 773.3 1686.1 774.3 1686.2 775.3 1686.3 776.3 1686.4 777.3 1686.6 778.3 1686.7 779.3 1686.8 780.3 1686.9 781.3 1687.0 782.2 1687.2 783.2 1687.3 784.2 1687.4 785.2 1687.5 786.2 1687.7 787.2 1687.8 788.2 1687.9 789.2 1688.0 790.2 1688.2 791.2 1688.3 792.2 1688.4 793.2 1688.5 794.2 1688.7 795.2 1688.8 796.1 1688.9 797.1 1689.0 798.1 1689.1 799.1 1689.3 800.1 1689.4 801.1 1689.5 802.1 1689.6 803.1 1689.8 804.1 1689.9 805.1 1690.0 806.1 1690.1 807.1 1690.3 808.1 1690.4 809.1 1690.5 810.1 1690.6 811.0 1690.8 812.0 1690.9 813.0 1691.0 814.0 1691.1 815.0 1691.3 816.0 1691.4 817.0 1691.5 818.0 1691.6 819.0 1691.8 820.0 1691.9 821.0 1692.0 822.0 1692.1 823.0 1692.3 824.0 1692.4 824.9 1692.5 825.9 1692.6 826.9 1692.8 827.9 1692.9 828.9 1693.0 829.9 1693.1 830.9 1693.2 831.9 1693.4 832.9 1693.5 833.9 1693.6 834.9 1693.7 835.9 1693.9 836.9 1694.0 837.9 1694.1 838.8 1694.2 839.8 1694.4 840.8 1694.5 841.8 1694.6 842.8 1694.7 843.8 1694.9 844.8 1695.0 845.8 1695.1 846.8 1695.2 847.8 1695.4 848.8 1695.5 849.8 1695.6 850.8 1695.7 851.8 1695.9 852.7 1696.0 853.7 1696.1 854.7 1696.2 855.7 1696.4 856.7 1696.5 857.7 1696.6 858.7 1696.7 859.7 1696.9 860.7 1697.0 861.7 1697.1 862.7 1697.2 863.7 1697.4 864.7 1697.5 865.7 1697.6 866.6 1697.7 867.6 1697.9 868.6 1698.0 869.6 1698.1 870.6 1698.2 871.6 1698.4 872.6 1698.5 873.6 1698.6 874.6 1698.7 875.6 1698.9 876.6 1699.0 877.6 1699.1 878.6 1699.2 879.6 1699.4 880.5 1699.5 881.5 1699.6 882.5 1699.7 883.5 1699.9 884.5 1700.0 885.5 1700.1 886.5 1700.2 887.5 1700.4 888.5 1700.5 889.5 1700.6 890.5 1700.7 891.5 1700.9 892.5 1701.0 893.4 1701.1 894.4 1701.2 895.4 1701.4 896.4 1701.5 897.4 1701.6 898.4 1701.7 899.4 1701.9 900.4 1702.0 901.4 1702.1 902.4 1702.2 903.4 1702.4 904.4 1702.5 905.4 1702.6 906.4 1702.7 907.3 1702.9 908.3 1703.0 909.3 1703.1 910.3 1703.2 911.3 1703.4 912.3 1703.5 913.3 1703.6 914.3 1703.7 915.3 1703.9 916.3 1704.0 917.3 1704.1 918.3 1704.2 919.3 1704.4 920.3 1704.5 921.3 1704.6 922.2 1704.7 923.2 1704.9 924.2 1705.0 925.2 1705.1 926.2 1705.2 927.2 1705.3 928.2 1705.5 929.2 1705.6 930.2 1705.7 931.2 1705.8 932.2 1706.0 933.2 1706.1 934.2 1706.2 935.2 1706.3 936.1 1706.5 937.1 1706.6 938.1 1706.7 939.1 1706.8 940.1 1707.0 941.1 1707.1 942.1 1707.2 943.1 1707.3 944.1 1707.5 945.1 1707.6 946.1 1707.7 947.1 1707.8 948.1 1707.9 949.1 1708.1 950.0 1708.2 951.0 1708.3 952.0 1708.4 953.0 1708.6 954.0 1708.7 955.0 1708.8 956.0 1708.9 957.0 1709.1 958.0 1709.2 959.0 1709.3 960.0 1709.4 961.0 1709.6 962.0 1709.7 963.0 1709.8 963.9 1709.9 964.9 1710.0 965.9 1710.2 966.9 1710.3 967.9 1710.4 968.9 1710.5 969.9 1710.7 970.9 1710.8 971.9 1710.9 972.9 1711.0 973.9 1711.2 974.9 1711.3 975.9 1711.4 976.9 1711.5 977.9 1711.7 978.8 1711.8 979.8 1711.9 980.8 1712.0 981.8 1712.2 982.8 1712.3 983.8 1712.4 984.8 1712.5 985.8 1712.6 986.8 1712.8 987.8 1712.9 988.8 1713.0 989.8 1713.1 990.8 1713.3 991.8 1713.4 992.7 1713.5 993.7 1713.6 994.7 1713.8 995.7 1713.9 996.7 1714.0 997.7 1714.1 998.7 1714.2 999.7 1714.4 1000.7 1714.5 1001.7 1714.6 1002.7 1714.7 1003.7 1714.9 1004.7 1715.0 1005.7 1715.1 1006.6 1715.2 1007.6 1715.4 1008.6 1715.5 1009.6 1715.6 1010.6 1715.7 1011.6 1715.8 1012.6 1716.0 1013.6 1716.1 1014.6 1716.2 1015.6 1716.3 1016.6 1716.5 1017.6 1716.6 1018.6 1716.7 1019.6 1716.8 1020.6 1717.0 1021.5 1717.1 1022.5 1717.2 1023.5 1717.3 1024.5 1717.4 1025.5 1717.6 1026.5 1717.7 1027.5 1717.8 1028.5 1717.9 1029.5 1718.1 1030.5 1718.2 1031.5 1718.3 1032.5 1718.4 1033.5 1718.6 1034.5 1718.7 1035.4 1718.8 1036.4 1718.9 1037.4 1719.1 1038.4 1719.2 1039.4 1719.3 1040.4 1719.4 1041.4 1719.6 1042.4 1719.7 1043.4 1719.8 1044.4 1719.9 1045.4 1720.1 1046.4 1720.2 1047.4 1720.3 1048.4 1720.4 1049.3 1720.6 1050.3 1720.7 1051.3 1720.8 1052.3 1720.9 1053.3 1721.1 1054.3 1721.2 1055.3 1721.3 1056.3 1721.5 1057.3 1721.6 1058.3 1721.7 1059.3 1721.8 1060.3 1722.0 1061.3 1722.1 1062.2 1722.2 1063.2 1722.3 1064.2 1722.5 1065.2 1722.6 1066.2 1722.7 1067.2 1722.9 1068.2 1723.0 1069.2 1723.1 1070.2 1723.3 1071.2 1723.4 1072.2 1723.5 1073.2 1723.6 1074.2 1723.8 1075.1 1723.9 1076.1 1724.0 1077.1 1724.2 1078.1 1724.3 1079.1 1724.4 1080.1 1724.6 1081.1 1724.7 1082.1 1724.8 1083.1 1724.9 1084.1 1725.1 1085.1 1725.2 1086.1 1725.3 1087.1 1725.5 1088.0 1725.6 1089.0 1725.7 1090.0 1725.9 1091.0 1726.0 1092.0 1726.1 1093.0 1726.2 1094.0 1726.4 1095.0 1726.5 1096.0 1726.6 1097.0 1726.8 1098.0 1726.9 1099.0 1727.0 1100.0 1727.1 1100.9 1727.3 1101.9 1727.4 1102.9 1727.5 1103.9 1727.7 1104.9 1727.8 1105.9 1727.9 1106.9 1728.0 1107.9 1728.2 1108.9 1728.3 1109.9 1728.4 1110.9 1728.6 1111.9 1728.7 1112.9 1728.8 1113.8 1728.9 1114.8 1729.1 1115.8 1729.2 1116.8 1729.3 1117.8 1729.4 1118.8 1729.6 1119.8 1729.7 1120.8 1729.8 1121.8 1729.9 1122.8 1730.1 1123.8 1730.2 1124.8 1730.3 1125.8 1730.4 1126.8 1730.6 1127.7 1730.7 1128.7 1730.8 1129.7 1730.9 1130.7 1731.0 1131.7 1731.2 1132.7 1731.3 1133.7 1731.4 1134.7 1731.5 1135.7 1731.7 1136.7 1731.8 1137.7 1731.9 1138.7 1732.0 1139.7 1732.1 1140.7 1732.3 1141.6 1732.4 1142.6 1732.5 1143.6 1732.6 1144.6 1732.8 1145.6 1732.9 1146.6 1733.0 1147.6 1733.1 1148.6 1733.2 1149.6 1733.4 1150.6 1733.5 1151.6 1733.6 1152.6 1733.7 1153.6 1733.9 1154.6 1734.0 1155.6 1734.1 1156.5 1734.2 1157.5 1734.3 1158.5 1734.5 1159.5 1734.6 1160.5 1734.7 1161.5 1734.8 1162.5 1734.9 1163.5 1735.1 1164.5 1735.2 1165.5 1735.3 1166.5 1735.4 1167.5 1735.5 1168.5 1735.6 1169.5 1735.8 1170.5 1735.9 1171.5 1736.0 1172.4 1736.1 1173.4 1736.2 1174.4 1736.4 1175.4 1736.5 1176.4 1736.6 1177.4 1736.7 1178.4 1736.8 1179.4 1736.9 1180.4 1737.1 1181.4 1737.2 1182.4 1737.3 1183.4 1737.4 1184.4 1737.5 1185.4 1737.7 1186.4 1737.8 1187.4 1737.9 1188.3 1738.0 1189.3 1738.1 1190.3 1738.2 1191.3 1738.3 1192.3 1738.5 1193.3 1738.6 1194.3 1738.7 1195.3 1738.8 1196.3 1738.9 1197.3 1739.0 1198.3 1739.2 1199.3 1739.3 1200.3 1739.4 1201.3 1739.5 1202.3 1739.6 1203.3 1739.7 1204.3 1739.8 1205.2 1739.9 1206.2 1740.1 1207.2 1740.2 1208.2 1740.3 1209.2 1740.4 1210.2 1740.5 1211.2 1740.6 1212.2 1740.7 1213.2 1740.8 1214.2 1741.0 1215.2 1741.1 1216.2 1741.2 1217.2 1741.3 1218.2 1741.4 1219.2 1741.5 1220.2 1741.6 1221.2 1741.7 1222.1 1741.8 1223.1 1741.9 1224.1 1742.0 1225.1 1742.2 1226.1 1742.3 1227.1 1742.4 1228.1 1742.5 1229.1 1742.6 1230.1 1742.7 1231.1 1742.8 1232.1 1742.9 1233.1 1743.0 1234.1 1743.1 1235.1 1743.2 1236.1 1743.3 1237.1 1743.4 1238.1 1743.6 1239.1 1743.7 1240.1 1743.8 1241.1 1743.9 1242.0 1744.0 1243.0 1744.1 1244.0 1744.2 1245.0 1744.3 1246.0 1744.4 1247.0 1744.5 1248.0 1744.6 1249.0 1744.7 1250.0 1744.8 1251.0 1744.9 1252.0 1745.0 1253.0 1745.1 1254.0 1745.2 1255.0 1745.3 1256.0 1745.5 1257.0 1745.6 1258.0 1745.7 1259.0 1745.8 1260.0 1745.9 1261.0 1746.0 1261.9 1746.1 1262.9 1746.2 1263.9 1746.3 1264.9 1746.4 1265.9 1746.5 1266.9 1746.6 1267.9 1746.7 1268.9 1746.8 1269.9 1746.9 1270.9 1747.0 1271.9 1747.1 1272.9 1747.3 1273.9 1747.4 1274.9 1747.5 1275.9 1747.6 1276.9 1747.7 1277.9 1747.8 1278.9 1747.9 1279.9 1748.0 1280.9 1748.1 1281.8 1748.2 1282.8 1748.3 1283.8 1748.4 1284.8 1748.5 1285.8 1748.7 1286.8 1748.8 1287.8 1748.9 1288.8 1749.0 1289.8 1749.1 1290.8 1749.2 1291.8 1749.3 1292.8 1749.4 1293.8 1749.5 1294.8 1749.6 1295.8 1749.7 1296.8 1749.9 1297.8 1750.0 1298.8 1750.1 1299.8 1750.2 1300.7 1750.3 1301.7 1750.4 1302.7 1750.5 1303.7 1750.6 1304.7 1750.7 1305.7 1750.9 1306.7 1751.0 1307.7 1751.1 1308.7 1751.2 1309.7 1751.3 1310.7 1751.4 1311.7 1751.5 1312.7 1751.6 1313.7 1751.7 1314.7 1751.9 1315.7 1752.0 1316.7 1752.1 1317.7 1752.2 1318.6 1752.3 1319.6 1752.4 1320.6 1752.5 1321.6 1752.6 1322.6 1752.7 1323.6 1752.9 1324.6 1753.0 1325.6 1753.1 1326.6 1753.2 1327.6 1753.3 1328.6 1753.4 1329.6 1753.5 1330.6 1753.6 1331.6 1753.8 1332.6 1753.9 1333.6 1754.0 1334.6 1754.1 1335.6 1754.2 1336.5 1754.3 1337.5 1754.4 1338.5 1754.5 1339.5 1754.6 1340.5 1754.8 1341.5 1754.9 1342.5 1755.0 1343.5 1755.1 1344.5 1755.2 1345.5 1755.3 1346.5 1755.4 1347.5 1755.5 1348.5 1755.7 1349.5 1755.8 1350.5 1755.9 1351.5 1756.0 1352.5 1756.1 1353.5 1756.2 1354.4 1756.3 1355.4 1756.4 1356.4 1756.5 1357.4 1756.7 1358.4 1756.8 1359.4 1756.9 1360.4 1757.0 1361.4 1757.1 1362.4 1757.2 1363.4 1757.3 1364.4 1757.4 1365.4 1757.5 1366.4 1757.6 1367.4 1757.8 1368.4 1757.9 1369.4 1758.0 1370.4 1758.1 1371.4 1758.2 1372.3 1758.3 1373.3 1758.4 1374.3 1758.5 1375.3 1758.6 1376.3 1758.7 1377.3 1758.8 1378.3 1758.9 1379.3 1759.1 1380.3 1759.2 1381.3 1759.3 1382.3 1759.4 1383.3 1759.5 1384.3 1759.6 1385.3 1759.7 1386.3 1759.8 1387.3 1759.9 1388.3 1760.0 1389.3 1760.1 1390.3 1760.2 1391.3 1760.3 1392.3 1760.4 1393.2 1760.5 1394.2 1760.6 1395.2 1760.7 1396.2 1760.8 1397.2 1760.9 1398.2 1761.0 1399.2 1761.1 1400.2 1761.2 1401.2 1761.3 1402.2 1761.4 1403.2 1761.5 1404.2 1761.6 1405.2 1761.7 1406.2 1761.8 1407.2 1761.9 1408.2 1762.0 1409.2 1762.1 1410.2 1762.2 1411.2 1762.3 1412.2 1762.4 1413.2 1762.5 1414.2 1762.6 1415.2 1762.7 1416.2 1762.8 1417.2 1762.9 1418.1 1763.0 1419.1 1763.1 1420.1 1763.2 1421.1 1763.3 1422.1 1763.4 1423.1 1763.5 1424.1 1763.7 1425.1 1763.8 1426.1 1763.9 1427.1 1764.0 1428.1 1764.1 1429.1 1764.2 1430.1 1764.3 1431.1 1764.4 1432.1 1764.5 1433.1 1764.6 1434.1 1764.7 1435.1 1764.8 1436.1 1764.9 1437.1 1765.1 1438.0 1765.2 1439.0 1765.3 1440.0 1765.4 1441.0 1765.5 1442.0 1765.6 1443.0 1765.7 1444.0 1765.9 1445.0 1766.0 1446.0 1766.1 1447.0 1766.2 1448.0 1766.3 1449.0 1766.5 1450.0 1766.6 1451.0 1766.7 1452.0 1766.8 1452.9 1766.9 1453.9 1767.1 1454.9 1767.2 1455.9 1767.3 1456.9 1767.5 1457.9 1767.6 1458.9 1767.7 1459.9 1767.9 1460.9 1768.0 1461.9 1768.1 1462.9 1768.3 1463.8 1768.4 1464.8 1768.6 1465.8 1768.7 1466.8 1768.8 1467.8 1769.0 1468.8 1769.1 1469.8 1769.3 1470.8 1769.4 1471.8 1769.6 1472.8 1769.7 1473.7 1769.9 1474.7 1770.1 1475.7 1770.2 1476.7 1770.4 1477.7 1770.5 1478.7 1770.7 1479.7 1770.8 1480.7 1771.0 1481.7 1771.2 1482.6 1771.3 1483.6 1771.5 1484.6 1771.6 1485.6 1771.8 1486.6 1772.0 1487.6 1772.1 1488.6 1772.3 1489.6 1772.4 1490.5 1772.6 1491.5 1772.8 1492.5 1772.9 1493.5 1773.1 1494.5 1773.2 1495.5 1773.4 1496.5 1773.6 1497.5 1773.7 1498.5 1773.9 1499.4 1774.0 1500.4 1774.2 1501.4 1774.3 1502.4 1774.5 1503.4 1774.6 1504.4 1774.8 1505.4 1774.9 1506.4 1775.1 1507.4 1775.2 1508.3 1775.4 1509.3 1775.5 1510.3 1775.7 1511.3 1775.8 1512.3 1776.0 1513.3 1776.1 1514.3 1776.2 1515.3 1776.4 1516.3 1776.5 1517.3 1776.7 1518.3 1776.8 1519.2 1776.9 1520.2 1777.1 1521.2 1777.2 1522.2 1777.3 1523.2 1777.5 1524.2 1777.6 1525.2 1777.8 1526.2 1777.9 1527.2 1778.1 1528.2 1778.2 1529.2 1778.4 1530.1 1778.5 1531.1 1778.7 1532.1 1778.8 1533.1 1779.0 1534.1 1779.1 1535.1 1779.3 1536.1 1779.5 1537.1 1779.6 1538.0 1779.8 1539.0 1780.0 1540.0 1780.2 1541.0 1780.4 1542.0 1780.6 1543.0 1780.7 1543.9 1780.9 1544.9 1781.1 1545.9 1781.3 1546.9 1781.5 1547.9 1781.7 1548.9 1781.9 1549.9 1782.2 1550.8 1782.4 1551.8 1782.6 1552.8 1782.8 1553.8 1783.1 1554.7 1783.3 1555.7 1783.6 1556.7 1783.8 1557.6 1784.1 1558.6 1784.4 1559.6 1784.6 1560.5 1784.9 1561.5 1785.2 1562.4 1785.5 1563.4 1785.9 1564.3 1786.2 1565.3 1786.5 1566.3 1786.9 1567.3 1787.3 1568.2 1787.7 1569.2 1788.1 1570.1 1788.6 1571.0 1789.0 1571.8 1789.5 1572.6 1790.1 1573.4 1790.7 1574.2 1791.3 1575.0 1792.1 1575.8 1792.9 1576.6 1793.7 1577.2 1794.5 1577.7 1795.4 1578.0 1796.3 1578.1 1797.3 1578.2" stroke="#0072BD"/>
<path d="M235.0 225.8 236.0 226.1 236.9 226.4 237.9 226.7 238.8 227.0 239.8 227.3 240.8 227.6 241.7 227.9 242.7 228.2 243.6 228.5 244.6 228.8 245.6 229.1 246.5 229.4 247.5 229.7 248.4 229.9 249.4 230.2 250.4 230.5 251.3 230.8 252.3 231.1 253.3 231.3 254.2 231.6 255.2 231.9 256.2 232.1 257.1 232.4 257.3 232.5 M266.1 234.7 266.8 234.9 267.8 235.1 268.8 235.4 269.7 235.6 270.7 235.8 271.7 236.0 272.1 236.1 M280.9 238.0 281.5 238.1 282.4 238.3 283.4 238.5 284.4 238.6 285.4 238.8 286.4 239.0 287.3 239.2 288.3 239.3 289.3 239.5 290.3 239.7 291.3 239.8 292.3 240.0 293.2 240.1 294.2 240.3 295.2 240.5 296.2 240.6 297.2 240.8 298.2 240.9 299.2 241.1 300.2 241.2 301.1 241.3 302.1 241.5 303.1 241.6 304.1 241.8 304.7 241.8 M313.5 243.0 314.0 243.1 315.0 243.2 316.0 243.3 317.0 243.5 318.0 243.6 319.0 243.7 319.5 243.8 M328.3 244.8 329.0 244.9 330.0 245.0 331.0 245.1 332.0 245.3 333.0 245.4 334.0 245.5 334.9 245.6 335.9 245.7 336.9 245.8 337.9 245.9 338.9 246.1 339.9 246.2 340.9 246.3 341.9 246.4 342.9 246.5 343.9 246.6 344.9 246.7 345.9 246.8 346.9 246.9 347.9 247.0 348.9 247.1 349.9 247.2 350.9 247.3 351.9 247.4 352.1 247.4 M360.9 248.2 361.9 248.3 362.9 248.4 363.9 248.5 364.9 248.5 365.9 248.6 366.8 248.7 366.9 248.7 M375.6 249.5 375.8 249.5 376.8 249.6 377.8 249.7 378.8 249.8 379.8 249.9 380.8 250.0 381.8 250.1 382.8 250.2 383.8 250.4 384.8 250.5 385.8 250.6 386.8 250.7 387.8 250.8 388.7 250.9 389.7 251.0 390.7 251.2 391.7 251.3 392.7 251.4 393.7 251.6 394.7 251.7 395.7 251.8 396.6 252.0 397.6 252.1 398.6 252.3 399.4 252.4 M408.2 254.0 408.4 254.1 409.4 254.3 410.4 254.5 411.4 254.7 412.4 254.9 413.3 255.1 414.2 255.3 M423.0 257.2 423.1 257.3 424.1 257.5 425.1 257.7 426.0 257.9 427.0 258.2 428.0 258.4 429.0 258.6 430.0 258.9 430.9 259.1 431.9 259.3 432.9 259.6 433.9 259.8 434.8 260.0 435.8 260.3 436.8 260.5 437.8 260.7 438.7 261.0 439.7 261.2 440.7 261.4 441.7 261.7 442.6 261.9 443.6 262.1 444.6 262.4 445.6 262.6 446.5 262.8 446.8 262.9 M455.6 264.9 456.3 265.0 457.3 265.3 458.2 265.5 459.2 265.7 460.2 265.9 461.2 266.2 461.6 266.3 M470.4 268.4 470.9 268.5 471.9 268.7 472.8 268.9 473.8 269.2 474.8 269.4 475.8 269.6 476.7 269.9 477.7 270.1 478.7 270.3 479.7 270.6 480.6 270.8 481.6 271.0 482.6 271.3 483.6 271.5 484.5 271.7 485.5 272.0 486.5 272.2 487.4 272.4 488.4 272.7 489.4 272.9 490.4 273.1 491.3 273.4 492.3 273.6 493.3 273.8 494.2 274.0 M503.0 276.1 503.0 276.1 504.0 276.3 505.0 276.6 506.0 276.8 506.9 277.0 507.9 277.2 508.9 277.5 509.0 277.5 M517.8 279.5 518.6 279.7 519.6 279.9 520.6 280.2 521.6 280.4 522.5 280.6 523.5 280.8 524.5 281.1 525.5 281.3 526.4 281.5 527.4 281.7 528.4 282.0 529.4 282.2 530.3 282.4 531.3 282.6 532.3 282.8 533.3 283.1 534.2 283.3 535.2 283.5 536.2 283.7 537.2 283.9 538.1 284.2 539.1 284.4 540.1 284.6 541.1 284.8 541.6 284.9 M550.4 286.9 550.8 287.0 551.8 287.2 552.8 287.4 553.8 287.6 554.8 287.8 555.7 288.0 556.4 288.2 M565.2 290.0 565.5 290.1 566.5 290.3 567.5 290.5 568.5 290.7 569.4 290.9 570.4 291.1 571.4 291.3 572.4 291.5 573.4 291.7 574.3 292.0 575.3 292.2 576.3 292.4 577.3 292.6 578.3 292.8 579.2 293.0 580.2 293.2 581.2 293.4 582.2 293.6 583.2 293.8 584.1 294.0 585.1 294.2 586.1 294.4 587.1 294.6 588.1 294.8 589.0 295.0 M597.8 296.7 597.9 296.7 598.9 296.9 599.9 297.1 600.8 297.3 601.8 297.4 602.8 297.6 603.8 297.8 M606.0 298.2 606.0 298.5 M606.3 307.2 606.3 307.2 606.4 308.2 606.4 309.2 606.4 310.2 606.5 311.2 606.5 312.2 606.5 313.2 606.6 314.3 606.6 315.3 606.6 316.3 606.7 317.3 606.7 318.3 606.7 319.3 606.8 320.3 606.8 321.3 606.8 322.3 606.9 323.3 606.9 324.3 606.9 325.3 607.0 326.3 607.0 327.3 607.0 328.3 607.1 329.3 607.1 330.3 607.1 331.0 M607.4 339.8 607.4 340.3 607.5 341.3 607.5 342.3 607.5 343.3 607.5 344.3 607.6 345.3 607.6 345.8 M607.8 354.6 607.9 355.3 607.9 356.3 607.9 357.3 608.0 358.3 608.0 359.3 608.0 360.3 608.0 361.4 608.1 362.4 608.1 363.4 608.1 364.4 608.1 365.4 608.2 366.4 608.2 367.4 608.2 368.4 608.3 369.4 608.3 370.4 608.3 371.4 608.3 372.4 608.4 373.4 608.4 374.4 608.4 375.4 608.5 376.4 608.5 377.4 608.5 378.4 608.5 378.4 M608.7 387.2 608.8 387.4 608.8 388.4 608.8 389.4 608.8 390.4 608.9 391.4 608.9 392.4 608.9 393.2 M609.1 402.0 609.1 402.4 609.2 403.4 609.2 404.4 609.2 405.5 609.2 406.5 609.3 407.5 609.3 408.5 609.3 409.5 609.3 410.5 609.3 411.5 609.4 412.5 609.4 413.5 609.4 414.5 609.4 415.5 609.4 416.5 609.5 417.5 609.5 418.5 609.5 419.5 609.5 420.5 609.5 421.5 609.6 422.5 609.6 423.5 609.6 424.5 609.6 425.5 609.6 425.8 M609.7 434.6 609.7 435.5 609.8 436.5 609.8 437.5 609.8 438.5 609.8 439.5 609.8 440.5 609.8 440.6 M609.9 449.4 609.9 449.6 609.9 450.6 609.9 451.6 609.9 452.6 609.9 453.6 610.0 454.6 610.0 455.6 610.0 456.6 610.0 457.6 610.0 458.6 610.0 459.6 610.0 460.6 610.0 461.6 610.0 462.6 610.0 463.6 610.1 464.6 610.1 465.6 610.1 466.6 610.1 467.6 610.1 468.6 610.1 469.6 610.1 470.6 610.1 471.6 610.1 472.6 610.1 473.2 M610.2 482.0 610.2 482.6 610.2 483.6 610.2 484.6 610.2 485.6 610.2 486.7 610.3 487.7 610.3 488.0 M610.3 496.8 610.3 497.7 610.3 498.7 610.3 499.7 610.3 500.7 610.4 501.7 610.4 502.7 610.4 503.7 610.4 504.7 610.4 505.7 610.4 506.7 610.4 507.7 610.4 508.7 610.4 509.7 610.4 510.7 610.4 511.7 610.4 512.7 610.4 513.7 610.4 514.7 610.5 515.7 610.5 516.7 610.5 517.7 610.5 518.7 610.5 519.7 610.5 520.6 M610.5 529.4 610.5 529.8 610.5 530.8 610.6 531.8 610.6 532.8 610.6 533.8 610.6 534.8 610.6 535.4 M610.6 544.1 610.6 544.8 610.6 545.8 610.6 546.8 610.7 547.8 610.7 548.8 610.7 549.8 610.7 550.8 610.7 551.8 610.7 552.8 610.7 553.8 610.7 554.8 610.7 555.8 610.7 556.8 610.7 557.8 610.7 558.8 610.7 559.8 610.7 560.8 610.7 561.8 610.7 562.8 610.8 563.9 610.8 564.9 610.8 565.9 610.8 566.9 610.8 567.9 610.8 567.9 M610.8 576.7 610.8 576.9 610.8 577.9 610.9 578.9 610.9 579.9 610.9 580.9 610.9 581.9 610.9 582.7 M610.9 591.5 610.9 591.9 611.0 592.9 611.0 593.9 611.0 594.9 611.0 595.9 611.0 596.9 611.0 597.9 611.0 598.9 611.0 599.9 611.0 600.9 611.0 602.0 611.0 603.0 611.0 604.0 611.0 605.0 611.1 606.0 611.1 607.0 611.1 608.0 611.1 609.0 611.1 610.0 611.1 611.0 611.1 612.0 611.1 613.0 611.1 614.0 611.1 615.0 611.1 615.3 M611.2 624.1 611.2 625.0 611.2 626.0 611.2 627.0 611.3 628.0 611.3 629.0 611.3 630.0 611.3 630.1 M611.4 638.9 611.4 639.0 611.4 640.0 611.4 641.1 611.4 642.1 611.4 643.1 611.4 644.1 611.4 645.1 611.4 646.1 611.5 647.1 611.5 648.1 611.5 649.1 611.5 650.1 611.5 651.1 611.5 652.1 611.5 653.1 611.5 654.1 611.5 655.1 611.6 656.1 611.6 657.1 611.6 658.1 611.6 659.1 611.6 660.1 611.6 661.1 611.6 662.1 611.6 662.7 M611.7 671.5 611.7 672.1 611.8 673.1 611.8 674.1 611.8 675.1 611.8 676.1 611.8 677.1 611.8 677.5 M611.9 686.3 611.9 687.2 611.9 688.2 612.0 689.2 612.0 690.2 612.0 691.2 612.0 692.2 612.0 693.2 612.0 694.2 612.0 695.2 612.0 696.2 612.1 697.2 612.1 698.2 612.1 699.2 612.1 700.2 612.1 701.2 612.1 702.2 612.1 703.2 612.1 704.2 612.2 705.2 612.2 706.2 612.2 707.2 612.2 708.2 612.2 709.2 612.2 710.1 M612.3 718.9 612.3 719.2 612.4 720.3 612.4 721.3 612.4 722.3 612.4 723.3 612.4 724.3 612.4 724.9 M612.5 733.7 612.5 734.3 612.6 735.3 612.6 736.3 612.6 737.3 612.6 738.3 612.6 739.3 612.6 740.3 612.6 741.3 612.6 742.3 612.7 743.3 612.7 744.3 612.7 745.3 612.7 746.3 612.7 747.3 612.7 748.3 612.7 749.3 612.8 750.3 612.8 751.3 612.8 752.3 612.8 753.3 612.8 754.3 612.8 755.3 612.8 756.3 612.8 757.3 612.8 757.5 M613.0 766.3 613.0 766.4 613.0 767.4 613.0 768.4 613.0 769.4 613.0 770.4 613.0 771.4 613.0 772.3 M613.1 781.0 613.1 781.4 613.2 782.4 613.2 783.4 613.2 784.4 613.2 785.4 613.2 786.4 613.2 787.4 613.2 788.4 613.2 789.4 613.2 790.4 613.3 791.4 613.3 792.4 613.3 793.4 613.3 794.4 613.3 795.4 613.3 796.4 613.3 797.4 613.3 798.4 613.4 799.5 613.4 800.5 613.4 801.5 613.4 802.5 613.4 803.5 613.4 804.5 613.4 804.8 M613.5 813.6 613.5 814.5 613.5 815.5 613.5 816.5 613.5 817.5 613.6 818.5 613.6 819.5 613.6 819.6 M613.7 828.4 613.7 828.5 613.7 829.5 613.7 830.5 613.7 831.5 613.7 832.5 613.7 833.5 613.7 834.5 613.7 835.5 613.7 836.5 613.8 837.5 613.8 838.6 613.8 839.6 613.8 840.6 613.8 841.6 613.8 842.6 613.8 843.6 613.8 844.6 613.8 845.6 613.8 846.6 613.8 847.6 613.9 848.6 613.9 849.6 613.9 850.6 613.9 851.6 613.9 852.2 M614.0 861.0 614.0 861.6 614.0 862.6 614.0 863.6 614.0 864.6 614.0 865.6 614.0 866.6 614.0 867.0 M614.1 875.8 614.1 876.6 614.1 877.7 614.1 878.7 614.1 879.7 614.2 880.7 614.2 881.7 614.2 882.7 614.2 883.7 614.2 884.7 614.2 885.7 614.2 886.7 614.2 887.7 614.2 888.7 614.2 889.7 614.2 890.7 614.3 891.7 614.3 892.7 614.3 893.7 614.3 894.7 614.3 895.7 614.3 896.7 M614.3 894.4 614.3 893.7 614.3 892.7 614.3 891.7 614.3 890.7 614.4 889.7 614.4 888.7 614.4 888.4 M614.5 879.6 614.5 878.7 614.5 877.7 614.5 876.7 614.5 875.7 614.6 874.7 614.6 873.7 614.6 872.7 614.6 871.7 614.6 870.7 614.6 869.7 614.7 868.7 614.7 867.7 614.7 866.7 614.7 865.7 614.7 864.7 614.7 863.7 614.8 862.7 614.8 861.7 614.8 860.7 614.8 859.7 614.8 858.7 614.9 857.7 614.9 856.7 614.9 855.8 M615.1 847.0 615.1 846.6 615.1 845.6 615.2 844.6 615.2 843.6 615.2 842.6 615.2 841.6 615.3 841.0 M615.5 832.3 615.6 831.6 615.6 830.6 615.6 829.6 615.7 828.6 615.7 827.6 615.8 826.6 615.8 825.6 615.8 824.6 615.9 823.6 615.9 822.6 616.0 821.6 616.0 820.6 616.0 819.6 616.1 818.6 616.1 817.6 616.2 816.6 616.2 815.6 616.2 814.6 616.3 813.6 616.3 812.6 616.4 811.6 616.4 810.6 616.5 809.6 616.5 808.6 616.5 808.5 M616.9 799.7 616.9 799.6 617.0 798.6 617.0 797.6 617.1 796.6 617.1 795.6 617.1 794.6 617.2 793.7 M617.6 784.9 617.6 784.6 617.6 783.6 617.7 782.6 617.7 781.6 617.8 780.6 617.8 779.6 617.8 778.6 617.9 777.6 617.9 776.6 618.0 775.6 618.0 774.6 618.1 773.6 618.1 772.6 618.1 771.6 618.2 770.6 618.2 769.6 618.3 768.6 618.3 767.6 618.3 766.6 618.4 765.6 618.4 764.6 618.4 763.6 618.5 762.6 618.5 761.6 618.5 761.1 M618.9 752.3 618.9 751.6 619.0 750.6 619.0 749.6 619.0 748.6 619.1 747.6 619.1 746.6 619.1 746.3 M619.5 737.5 619.5 736.6 619.6 735.6 619.6 734.6 619.6 733.6 619.7 732.6 619.7 731.6 619.8 730.6 619.8 729.6 619.8 728.6 619.9 727.6 619.9 726.6 620.0 725.6 620.0 724.6 620.0 723.6 620.1 722.6 620.1 721.6 620.2 720.6 620.2 719.6 620.3 718.6 620.3 717.6 620.3 716.6 620.4 715.6 620.4 714.6 620.5 713.7 M620.8 704.9 620.8 704.6 620.9 703.6 620.9 702.6 621.0 701.6 621.0 700.6 621.1 699.6 621.1 698.9 M621.5 690.1 621.5 689.6 621.6 688.6 621.6 687.6 621.6 686.6 621.7 685.6 621.7 684.6 621.8 683.6 621.8 682.6 621.9 681.6 621.9 680.6 622.0 679.6 622.0 678.6 622.1 677.6 622.1 676.6 622.2 675.6 622.2 674.6 622.3 673.6 622.3 672.6 622.4 671.6 622.4 670.6 622.5 669.6 622.5 668.6 622.6 667.6 622.6 666.6 622.6 666.3 M623.0 657.5 623.1 656.6 623.1 655.6 623.2 654.6 623.2 653.6 623.3 652.6 623.3 651.6 623.3 651.5 M623.7 642.7 623.8 642.6 623.8 641.6 623.8 640.6 623.9 639.6 623.9 638.6 624.0 637.6 624.0 636.6 624.1 635.6 624.1 634.6 624.2 633.6 624.2 632.6 624.2 631.6 624.3 630.6 624.3 629.6 624.4 628.6 624.4 627.6 624.5 626.6 624.5 625.6 624.5 624.6 624.6 623.6 624.6 622.6 624.7 621.6 624.7 620.6 624.7 619.6 624.8 618.9 M625.1 610.1 625.2 609.6 625.2 608.6 625.2 607.6 625.3 606.6 625.3 605.6 625.4 604.6 625.4 604.1 M625.8 595.4 625.8 594.6 625.9 593.6 626.0 592.6 626.0 591.6 626.1 590.6 626.1 589.6 626.2 588.6 626.2 587.6 626.3 586.6 626.3 585.6 626.4 584.6 626.5 583.6 626.5 582.6 626.6 581.6 626.6 580.6 626.7 579.6 626.8 578.6 626.9 577.6 626.9 576.6 627.0 575.6 627.1 574.6 627.2 573.6 627.2 572.6 627.3 571.6 627.3 571.6 M628.0 562.8 628.1 562.6 628.1 561.6 628.2 560.6 628.3 559.6 628.4 558.6 628.5 557.6 628.6 556.8 M629.4 548.0 629.4 547.6 629.5 546.6 629.6 545.6 629.7 544.6 629.8 543.6 629.8 542.7 629.9 541.7 630.0 540.7 630.1 539.7 630.2 538.7 630.3 537.7 630.4 536.7 630.5 535.7 630.6 534.7 630.7 533.7 630.8 532.7 630.9 531.7 631.0 530.7 631.1 529.7 631.2 528.7 631.3 527.7 631.4 526.7 631.5 525.7 631.6 524.7 631.6 524.2 M632.5 515.4 632.6 514.8 632.7 513.8 632.8 512.8 632.9 511.8 633.0 510.8 633.1 509.8 633.2 509.4 M634.2 500.6 634.3 499.8 634.4 498.8 634.5 497.8 634.6 496.8 634.8 495.8 634.9 494.9 635.0 493.9 635.1 492.9 635.2 491.9 635.4 490.9 635.5 489.9 635.6 488.9 635.8 487.9 635.9 486.9 636.0 485.9 636.1 484.9 636.3 483.9 636.4 482.9 636.5 481.9 636.7 481.0 636.8 480.0 637.0 479.0 637.1 478.0 637.2 477.0 637.3 476.8 M638.5 468.0 638.7 467.1 638.8 466.1 639.0 465.1 639.1 464.1 639.3 463.1 639.4 462.1 639.5 462.0 M640.9 453.2 641.1 452.2 641.3 451.2 641.5 450.3 641.7 449.3 641.9 448.3 642.1 447.3 642.3 446.3 642.5 445.4 642.7 444.4 642.9 443.4 643.1 442.4 643.3 441.5 643.5 440.5 643.7 439.5 644.0 438.5 644.2 437.6 644.4 436.6 644.7 435.6 644.9 434.6 645.2 433.7 645.4 432.7 645.7 431.7 646.0 430.7 646.2 429.8 646.3 429.4 M649.1 420.6 649.3 420.2 649.6 419.3 649.9 418.3 650.3 417.4 650.6 416.5 651.0 415.6 651.3 414.6 651.3 414.6 M655.5 405.8 655.7 405.6 656.1 404.7 656.6 403.8 657.1 402.9 657.6 402.0 658.1 401.2 658.6 400.3 659.1 399.4 659.6 398.6 660.1 397.7 660.6 396.8 661.1 396.0 661.6 395.1 662.1 394.3 662.7 393.4 663.2 392.6 663.7 391.7 664.3 390.9 664.8 390.0 665.4 389.2 666.0 388.4 666.5 387.5 667.1 386.7 667.7 385.9 668.3 385.1 668.9 384.3 669.4 383.5 670.0 382.7 670.5 382.0 M677.8 373.2 678.4 372.6 679.1 371.9 679.8 371.1 680.5 370.4 681.2 369.8 681.9 369.1 682.6 368.4 683.4 367.8 683.7 367.6 M692.5 361.3 693.2 360.8 694.1 360.3 694.9 359.8 695.8 359.3 696.7 358.8 697.5 358.3 698.4 357.8 699.3 357.3 700.1 356.8 701.0 356.3 701.9 355.8 702.8 355.3 703.7 354.8 704.5 354.4 705.4 353.9 706.3 353.4 707.2 353.0 708.1 352.6 709.1 352.1 710.0 351.7 710.9 351.3 711.8 351.0 712.7 350.6 713.7 350.2 714.6 349.9 715.5 349.6 716.3 349.3 M725.1 346.6 725.1 346.6 726.1 346.4 727.0 346.1 728.0 345.8 729.0 345.6 730.0 345.3 730.9 345.1 731.1 345.0 M739.8 342.7 740.6 342.5 741.6 342.3 742.6 342.0 743.5 341.8 744.5 341.5 745.5 341.3 746.5 341.1 747.4 340.9 748.4 340.7 749.4 340.5 750.4 340.3 751.4 340.1 752.3 339.9 753.3 339.7 754.3 339.6 755.3 339.4 756.3 339.2 757.3 339.1 758.2 338.9 759.2 338.7 760.2 338.6 761.2 338.4 762.2 338.3 763.2 338.1 763.6 338.1 M772.4 336.9 773.1 336.8 774.1 336.7 775.1 336.6 776.1 336.5 777.1 336.4 778.1 336.3 778.4 336.2 M787.2 335.4 788.1 335.3 789.1 335.2 790.1 335.2 791.1 335.1 792.1 335.0 793.1 334.9 794.1 334.8 795.1 334.8 796.1 334.7 797.1 334.6 798.1 334.5 799.1 334.5 800.1 334.4 801.1 334.4 802.1 334.3 803.1 334.3 804.1 334.2 805.1 334.2 806.1 334.2 807.1 334.1 808.1 334.1 809.1 334.1 810.1 334.1 811.0 334.1 M819.8 333.9 820.1 333.9 821.1 333.9 822.1 333.9 823.1 333.9 824.1 333.9 825.1 333.8 825.8 333.8 M834.6 333.7 835.1 333.7 836.1 333.7 837.1 333.7 838.1 333.7 839.1 333.7 840.1 333.7 841.1 333.7 842.1 333.7 843.1 333.7 844.1 333.7 845.1 333.7 846.1 333.7 847.1 333.7 848.1 333.7 849.1 333.7 850.1 333.7 851.1 333.8 852.1 333.8 853.1 333.8 854.1 333.9 855.1 333.9 856.1 334.0 857.1 334.0 858.1 334.1 858.4 334.1 M867.2 334.9 868.1 334.9 869.1 335.0 870.1 335.1 871.1 335.3 872.1 335.4 873.1 335.5 873.2 335.5 M882.0 336.5 882.0 336.5 883.0 336.7 884.0 336.8 885.0 336.9 886.0 337.0 887.0 337.1 888.0 337.3 889.0 337.4 890.0 337.5 891.0 337.6 892.0 337.7 893.0 337.9 894.0 338.0 895.0 338.1 896.0 338.2 897.0 338.3 898.0 338.4 899.0 338.5 900.0 338.7 900.9 338.8 901.9 338.9 902.9 339.0 903.9 339.2 904.9 339.3 905.8 339.4 M914.6 340.7 914.8 340.7 915.8 340.8 916.8 341.0 917.8 341.1 918.8 341.3 919.8 341.4 920.6 341.6 M929.4 342.9 929.7 343.0 930.7 343.1 931.7 343.3 932.6 343.5 933.6 343.6 934.6 343.8 935.6 343.9 936.6 344.1 937.6 344.3 938.6 344.4 939.6 344.6 940.6 344.7 941.5 344.9 942.5 345.1 943.5 345.2 944.5 345.4 945.5 345.5 946.5 345.7 947.5 345.9 948.5 346.0 949.4 346.2 950.4 346.4 951.4 346.6 952.4 346.7 953.2 346.9 M962.0 348.5 962.3 348.5 963.2 348.7 964.2 348.9 965.2 349.1 966.2 349.3 967.2 349.4 968.0 349.6 M976.7 351.2 977.0 351.2 978.0 351.4 979.0 351.6 980.0 351.8 981.0 351.9 982.0 352.1 982.9 352.3 983.9 352.5 984.9 352.6 985.9 352.8 986.9 353.0 987.9 353.1 988.9 353.3 989.9 353.5 990.8 353.6 991.8 353.8 992.8 354.0 993.8 354.1 994.8 354.3 995.8 354.4 996.8 354.6 997.8 354.8 998.7 354.9 999.7 355.1 1000.5 355.2 M1009.3 356.6 1009.6 356.6 1010.6 356.8 1011.6 357.0 1012.6 357.1 1013.6 357.3 1014.6 357.4 1015.3 357.5 M1024.1 358.9 1024.5 359.0 1025.4 359.2 1026.4 359.3 1027.4 359.5 1028.4 359.6 1029.4 359.8 1030.4 360.0 1031.4 360.1 1032.4 360.3 1033.3 360.5 1034.3 360.6 1035.3 360.8 1036.3 361.0 1037.3 361.1 1038.3 361.3 1039.3 361.4 1040.3 361.6 1041.3 361.8 1042.2 361.9 1043.2 362.1 1044.2 362.3 1045.2 362.4 1046.2 362.6 1047.2 362.8 1047.9 362.9 M1056.7 364.4 1057.0 364.4 1058.0 364.6 1059.0 364.8 1060.0 364.9 1061.0 365.1 1062.0 365.3 1062.7 365.4 M1071.5 367.0 1071.8 367.0 1072.8 367.2 1073.8 367.4 1074.8 367.6 1075.8 367.7 1076.8 367.9 1077.8 368.1 1078.7 368.3 1079.7 368.5 1080.7 368.7 1081.7 368.8 1082.7 369.0 1083.7 369.2 1084.6 369.4 1085.6 369.6 1086.6 369.8 1087.6 370.0 1088.6 370.2 1089.5 370.4 1090.5 370.6 1091.5 370.8 1092.5 371.0 1093.5 371.2 1094.5 371.4 1095.3 371.6 M1104.1 373.4 1104.3 373.4 1105.2 373.6 1106.2 373.8 1107.2 374.0 1108.2 374.2 1109.2 374.4 1110.1 374.6 M1118.9 376.4 1119.0 376.4 1120.0 376.6 1120.9 376.8 1121.9 377.0 1122.9 377.2 1123.9 377.3 1124.9 377.5 1125.9 377.7 1126.8 377.9 1127.8 378.1 1128.8 378.2 1129.8 378.4 1130.8 378.6 1131.8 378.8 1132.8 378.9 1133.7 379.1 1134.7 379.3 1135.7 379.5 1136.7 379.6 1137.7 379.8 1138.7 380.0 1139.7 380.2 1140.7 380.3 1141.6 380.5 1142.6 380.7 1142.7 380.7 M1151.5 382.2 1151.5 382.2 1152.5 382.3 1153.5 382.5 1154.5 382.7 1155.5 382.8 1156.4 383.0 1157.4 383.2 1157.5 383.2 M1166.3 384.6 1166.3 384.7 1167.3 384.8 1168.3 385.0 1169.3 385.2 1170.3 385.3 1171.3 385.5 1172.2 385.7 1173.2 385.8 1174.2 386.0 1175.2 386.2 1176.2 386.4 1177.2 386.5 1178.2 386.7 1179.1 386.9 1180.1 387.1 1181.1 387.2 1182.1 387.4 1183.1 387.6 1184.1 387.7 1185.1 387.9 1186.1 388.1 1187.0 388.3 1188.0 388.4 1189.0 388.6 1190.0 388.8 1190.1 388.8 M1198.9 390.3 1198.9 390.3 1199.9 390.5 1200.8 390.7 1201.8 390.9 1202.8 391.0 1203.8 391.2 1204.8 391.4 1204.9 391.4 M1213.6 393.0 1213.7 393.0 1214.6 393.1 1215.6 393.3 1216.6 393.5 1217.6 393.7 1218.6 393.9 1219.6 394.0 1220.6 394.2 1221.5 394.4 1222.5 394.6 1223.5 394.7 1224.5 394.9 1225.5 395.1 1226.5 395.3 1227.5 395.5 1228.4 395.6 1229.4 395.8 1230.4 396.0 1231.4 396.2 1232.4 396.4 1233.4 396.5 1234.3 396.7 1235.3 396.9 1236.3 397.1 1237.3 397.3 1237.4 397.3 M1246.2 398.9 1247.1 399.1 1248.1 399.3 1249.1 399.4 1250.1 399.6 1251.1 399.8 1252.1 400.0 1252.2 400.0 M1261.0 401.6 1261.9 401.8 1262.9 402.0 1263.9 402.2 1264.9 402.3 1265.9 402.5 1266.8 402.7 1267.8 402.9 1268.8 403.0 1269.8 403.2 1270.8 403.4 1271.8 403.6 1272.8 403.8 1273.7 403.9 1274.7 404.1 1275.7 404.3 1276.7 404.5 1277.7 404.6 1278.7 404.8 1279.7 405.0 1280.6 405.2 1281.6 405.3 1282.6 405.5 1283.6 405.7 1284.6 405.9 1284.8 405.9 M1293.6 407.5 1294.4 407.6 1295.4 407.8 1296.4 408.0 1297.4 408.2 1298.4 408.3 1299.4 408.5 1299.6 408.6 M1308.4 410.1 1309.2 410.3 1310.2 410.4 1311.2 410.6 1330.9 414.6 1331.9 414.8 1332.2 414.8 M1341.0 416.2 1341.8 416.3 1342.8 416.4 1343.8 416.6 1344.8 416.7 1345.8 416.8 1346.8 417.0 1347.0 417.0 M1355.8 418.1 1356.7 418.2 1357.7 418.4 1358.7 418.5 1359.7 418.6 1360.7 418.7 1361.7 418.8 1362.7 419.0 1363.7 419.1 1364.7 419.2 1365.7 419.3 1366.7 419.4 1367.7 419.5 1368.7 419.6 1369.7 419.6 1370.7 419.7 1371.7 419.8 1372.7 419.9 1373.7 420.0 1374.7 420.0 1375.7 420.1 1376.7 420.2 1377.7 420.2 1378.7 420.3 1379.6 420.4 M1388.4 421.0 1388.7 421.0 1389.7 421.0 1390.8 421.1 1391.8 421.1 1392.8 421.1 1393.8 421.1 1394.4 421.2 M1403.2 421.3 1403.8 421.3 1404.8 421.3 1405.8 421.3 1406.8 421.3 1407.8 421.2 1408.8 421.2 1409.8 421.2 1410.8 421.2 1411.8 421.1 1412.8 421.1 1413.8 421.1 1414.8 421.1 1415.8 421.0 1416.9 421.0 1417.9 421.0 1418.9 421.0 1419.9 420.9 1420.9 420.9 1421.9 420.8 1422.9 420.8 1423.9 420.8 1424.9 420.7 1425.9 420.7 1426.9 420.6 1427.0 420.6 M1435.8 420.0 1435.9 420.0 1436.9 419.9 1437.9 419.8 1438.9 419.7 1439.9 419.6 1440.9 419.5 1441.8 419.4 M1450.5 418.3 1450.9 418.2 1451.9 418.1 1452.9 418.0 1453.9 417.9 1454.8 417.7 1455.8 417.6 1456.8 417.5 1457.8 417.4 1458.8 417.2 1459.8 417.1 1460.8 416.9 1461.8 416.8 1462.8 416.6 1463.8 416.5 1464.8 416.3 1465.8 416.2 1466.8 416.0 1467.8 415.8 1468.7 415.7 1469.7 415.5 1470.7 415.3 1471.7 415.1 1472.7 415.0 1473.7 414.8 1474.3 414.7 M1483.1 412.9 1483.5 412.9 1484.5 412.6 1485.5 412.4 1486.5 412.2 1487.5 412.0 1488.5 411.8 1489.1 411.6 M1497.9 409.4 1498.2 409.3 1499.2 409.1 1500.1 408.8 1501.1 408.5 1502.1 408.2 1503.0 407.9 1504.0 407.6 1504.9 407.3 1505.9 407.0 1506.8 406.7 1507.8 406.4 1508.8 406.1 1509.7 405.8 1510.7 405.5 1511.6 405.1 1512.5 404.8 1513.5 404.5 1514.4 404.1 1515.4 403.8 1516.3 403.4 1517.3 403.0 1518.2 402.7 1519.1 402.3 1520.1 402.0 1521.0 401.6 1521.7 401.3 M1530.5 397.5 1531.2 397.2 1532.1 396.8 1533.0 396.4 1533.9 396.0 1534.8 395.6 1535.7 395.2 1536.5 394.9 M1545.3 390.8 1545.8 390.6 1546.7 390.2 1547.6 389.7 1548.5 389.3 1549.4 388.9 1550.3 388.5 1551.2 388.0 1552.1 387.6 1553.0 387.2 1553.9 386.7 1554.8 386.3 1555.7 385.8 1556.6 385.4 1557.5 384.9 1558.4 384.5 1559.3 384.0 1560.2 383.6 1561.1 383.1 1562.0 382.7 1562.9 382.3 1563.8 381.8 1564.8 381.4 1565.7 381.0 1566.6 380.5 1567.5 380.1 1568.4 379.7 1569.1 379.4 M1577.9 375.3 1578.4 375.1 1579.3 374.7 1580.3 374.2 1581.2 373.8 1582.1 373.3 1583.0 372.9 1583.9 372.4 1583.9 372.4 M1592.7 370.2 1593.6 370.1 1594.6 370.0 1595.6 370.0 1596.6 369.9 1597.6 369.8 1598.6 369.8 1599.6 369.8 1600.6 369.8 1601.6 369.8 1602.7 369.9 1603.7 370.0 1604.7 370.1 1605.7 370.2 1606.6 370.3 1607.5 370.6 1608.4 371.0 1609.2 371.7 1610.0 372.4 1610.7 373.1 1611.4 373.8 1612.0 374.6 1612.6 375.5 1613.2 376.3 1613.8 377.1 1614.3 378.0 1614.9 378.8 1614.9 378.9 M1620.3 387.7 1620.6 388.2 1621.1 389.1 1621.6 390.0 1622.1 390.9 1622.5 391.8 1623.0 392.6 1623.5 393.5 1623.6 393.7 M1627.9 402.5 1628.0 402.5 1628.4 403.4 1628.7 404.4 1629.1 405.3 1629.4 406.3 1629.7 407.2 1630.0 408.2 1630.3 409.1 1630.6 410.1 1630.9 411.1 1631.2 412.0 1631.4 413.0 1631.7 414.0 1631.9 414.9 1632.2 415.9 1632.4 416.9 1632.6 417.9 1632.8 418.9 1633.0 419.8 1633.2 420.8 1633.4 421.8 1633.7 422.8 1633.9 423.8 1634.1 424.8 1634.3 425.7 1634.4 426.3 M1636.6 435.1 1636.7 435.5 1636.9 436.5 1637.2 437.4 1637.4 438.4 1637.7 439.4 1637.9 440.4 1638.1 441.1 M1640.1 449.8 1640.2 450.1 1640.5 451.1 1640.7 452.1 1640.9 453.1 1641.1 454.0 1641.4 455.0 1641.6 456.0 M1643.7 462.0 1643.8 463.0 1644.0 464.0 1644.1 465.0 1644.3 466.0 1644.4 467.0 1644.5 467.6 M1646.1 476.3 1646.2 476.8 1646.4 477.8 1646.5 478.8 1646.7 479.8 1646.9 480.7 1647.1 481.7 1647.2 482.3 M1648.8 491.1 1648.9 491.6 1649.1 492.6 1649.2 493.5 1649.4 494.5 1649.6 495.5 1649.7 496.5 1649.9 497.5 1650.0 498.5 1650.2 499.5 1650.3 500.5 1650.5 501.5 1650.6 502.4 1650.8 503.4 1650.9 504.4 1651.1 505.4 1651.2 506.4 1651.4 507.4 1651.5 508.4 1651.6 509.4 1651.8 510.4 1651.9 511.4 1652.1 512.3 1652.2 513.3 1652.3 514.3 1652.4 514.9 M1653.7 523.6 1653.7 524.2 1653.9 525.2 1654.0 526.2 1654.2 527.2 1654.3 528.2 1654.5 529.2 1654.6 529.6 M1656.0 538.4 1656.2 539.1 1656.3 540.0 1656.5 541.0 1656.7 542.0 1656.8 543.0 1657.0 544.0 1657.2 545.0 1657.3 546.0 1657.5 546.9 1657.7 547.9 1657.8 548.9 1658.0 549.9 1658.1 550.9 1658.3 551.9 1658.4 552.9 1658.6 553.9 1658.7 554.9 1658.8 555.8 1659.0 556.8 1659.1 557.8 1659.3 558.8 1659.4 559.8 1659.5 560.8 1659.7 561.8 1659.7 562.2 M1660.8 570.9 1660.9 571.7 1661.1 572.7 1661.2 573.7 1661.3 574.7 1661.4 575.7 1661.6 576.7 1661.6 576.9 M1662.7 585.7 1662.8 586.6 1662.9 587.6 1663.0 588.6 1663.1 589.6 1663.2 590.6 1663.3 591.6 1663.5 592.6 1663.6 593.6 1663.7 594.6 1663.8 595.6 1663.9 596.6 1664.0 597.5 1664.2 598.5 1664.3 599.5 1664.4 600.5 1664.5 601.5 1664.6 602.5 1664.7 603.5 1664.9 604.5 1665.0 605.5 1665.1 606.5 1665.2 607.5 1665.3 608.5 1665.5 609.5 1665.5 609.5 M1666.5 618.2 1666.5 618.4 1666.7 619.4 1666.8 620.4 1666.9 621.4 1667.0 622.4 1667.2 623.4 1667.3 624.2 M1668.4 633.0 1668.4 633.3 1668.6 634.3 1668.7 635.3 1668.8 636.3 1668.9 637.3 1669.1 638.3 1669.2 639.3 1669.3 640.3 1669.5 641.2 1669.6 642.2 1669.7 643.2 1669.8 644.2 1670.0 645.2 1670.1 646.2 1670.2 647.2 1670.4 648.2 1670.5 649.2 1670.6 650.2 1670.7 651.2 1670.9 652.2 1671.0 653.2 1671.1 654.1 1671.3 655.1 1671.4 656.1 1671.5 656.8 M1672.6 665.5 1672.7 666.1 1672.8 667.0 1672.9 668.0 1673.1 669.0 1673.2 670.0 1673.3 671.0 1673.4 671.5 M1674.5 680.3 1674.6 680.9 1674.7 681.9 1674.9 682.9 1675.0 683.9 1675.1 684.9 1675.2 685.9 1675.4 686.9 1675.5 687.9 1675.6 688.9 1675.7 689.9 1675.9 690.9 1676.0 691.9 1676.1 692.9 1676.2 693.8 1676.4 694.8 1676.5 695.8 1676.6 696.8 1676.7 697.8 1676.9 698.8 1677.0 699.8 1677.1 700.8 1677.2 701.8 1677.4 702.8 1677.5 703.8 1677.5 704.1 M1678.6 712.8 1678.7 713.7 1678.8 714.7 1678.9 715.7 1679.1 716.7 1679.2 717.7 1679.3 718.7 1679.3 718.8 M1680.4 727.6 1680.4 727.6 1680.5 728.6 1680.6 729.6 1680.7 730.6 1680.9 731.6 1681.0 732.6 1681.1 733.6 1681.2 734.6 1681.3 735.6 1681.5 736.6 1681.6 737.6 1681.7 738.5 1681.8 739.5 1681.9 740.5 1682.1 741.5 1682.2 742.5 1682.3 743.5 1682.4 744.5 1682.5 745.5 1682.7 746.5 1682.8 747.5 1682.9 748.5 1683.0 749.5 1683.1 750.5 1683.3 751.4 M1684.3 760.1 1684.3 760.4 1684.5 761.4 1684.6 762.4 1684.7 763.4 1684.8 764.4 1685.0 765.4 1685.1 766.1 M1686.1 774.9 1686.2 775.3 1686.3 776.3 1686.4 777.3 1686.6 778.3 1686.7 779.3 1686.8 780.3 1686.9 781.3 1687.0 782.2 1687.2 783.2 1687.3 784.2 1687.4 785.2 1687.5 786.2 1687.7 787.2 1687.8 788.2 1687.9 789.2 1688.0 790.2 1688.2 791.2 1688.3 792.2 1688.4 793.2 1688.5 794.2 1688.7 795.2 1688.8 796.1 1688.9 797.1 1689.0 798.1 1689.1 798.7 M1690.2 807.4 1690.3 808.1 1690.4 809.1 1690.5 810.1 1690.6 811.0 1690.8 812.0 1690.9 813.0 1690.9 813.4 M1692.0 822.2 1692.1 823.0 1692.3 824.0 1692.4 824.9 1692.5 825.9 1692.6 826.9 1692.8 827.9 1692.9 828.9 1693.0 829.9 1693.1 830.9 1693.2 831.9 1693.4 832.9 1693.5 833.9 1693.6 834.9 1693.7 835.9 1693.9 836.9 1694.0 837.9 1694.1 838.8 1694.2 839.8 1694.4 840.8 1694.5 841.8 1694.6 842.8 1694.7 843.8 1694.9 844.8 1695.0 845.8 1695.0 846.0 M1696.1 854.7 1696.2 855.7 1696.4 856.7 1696.5 857.7 1696.6 858.7 1696.7 859.7 1696.9 860.7 1696.9 860.7 M1698.0 869.5 1698.0 869.6 1698.1 870.6 1698.2 871.6 1698.4 872.6 1698.5 873.6 1698.6 874.6 1698.7 875.6 1698.9 876.6 1699.0 877.6 1699.1 878.6 1699.2 879.6 1699.4 880.5 1699.5 881.5 1699.6 882.5 1699.7 883.5 1699.9 884.5 1700.0 885.5 1700.1 886.5 1700.2 887.5 1700.4 888.5 1700.5 889.5 1700.6 890.5 1700.7 891.5 1700.9 892.5 1701.0 893.3 M1702.1 902.0 1702.1 902.4 1702.2 903.4 1702.4 904.4 1702.5 905.4 1702.6 906.4 1702.7 907.3 1702.8 908.0 M1703.9 916.8 1704.0 917.3 1704.1 918.3 1704.2 919.3 1704.4 920.3 1704.5 921.3 1704.6 922.2 1704.7 923.2 1704.9 924.2 1705.0 925.2 1705.1 926.2 1705.2 927.2 1705.3 928.2 1705.5 929.2 1705.6 930.2 1705.7 931.2 1705.8 932.2 1706.0 933.2 1706.1 934.2 1706.2 935.2 1706.3 936.1 1706.5 937.1 1706.6 938.1 1706.7 939.1 1706.8 940.1 1706.9 940.6 M1708.0 949.3 1708.1 950.0 1708.2 951.0 1708.3 952.0 1708.4 953.0 1708.6 954.0 1708.7 955.0 1708.7 955.3 M1709.8 964.1 1709.9 964.9 1710.0 965.9 1710.2 966.9 1710.3 967.9 1710.4 968.9 1710.5 969.9 1710.7 970.9 1710.8 971.9 1710.9 972.9 1711.0 973.9 1711.2 974.9 1711.3 975.9 1711.4 976.9 1711.5 977.9 1711.7 978.8 1711.8 979.8 1711.9 980.8 1712.0 981.8 1712.2 982.8 1712.3 983.8 1712.4 984.8 1712.5 985.8 1712.6 986.8 1712.8 987.8 1712.8 987.9 M1713.9 996.6 1713.9 996.7 1714.0 997.7 1714.1 998.7 1714.2 999.7 1714.4 1000.7 1714.5 1001.7 1714.6 1002.6 M1715.7 1011.4 1715.7 1011.6 1715.8 1012.6 1716.0 1013.6 1716.1 1014.6 1716.2 1015.6 1716.3 1016.6 1716.5 1017.6 1716.6 1018.6 1716.7 1019.6 1716.8 1020.6 1717.0 1021.5 1717.1 1022.5 1717.2 1023.5 1717.3 1024.5 1717.4 1025.5 1717.6 1026.5 1717.7 1027.5 1717.8 1028.5 1717.9 1029.5 1718.1 1030.5 1718.2 1031.5 1718.3 1032.5 1718.4 1033.5 1718.6 1034.5 1718.7 1035.2 M1719.8 1043.9 1719.8 1044.4 1719.9 1045.4 1720.1 1046.4 1720.2 1047.4 1720.3 1048.4 1720.4 1049.3 1720.5 1049.9 M1721.6 1058.7 1721.7 1059.3 1721.8 1060.3 1722.0 1061.3 1722.1 1062.2 1722.2 1063.2 1722.3 1064.2 1722.5 1065.2 1722.6 1066.2 1722.7 1067.2 1722.9 1068.2 1723.0 1069.2 1723.1 1070.2 1723.3 1071.2 1723.4 1072.2 1723.5 1073.2 1723.6 1074.2 1723.8 1075.1 1723.9 1076.1 1724.0 1077.1 1724.2 1078.1 1724.3 1079.1 1724.4 1080.1 1724.6 1081.1 1724.7 1082.1 1724.7 1082.5 M1725.9 1091.2 1726.0 1092.0 1726.1 1093.0 1726.2 1094.0 1726.4 1095.0 1726.5 1096.0 1726.6 1097.0 1726.7 1097.2 M1727.8 1106.0 1727.9 1106.9 1728.0 1107.9 1728.2 1108.9 1728.3 1109.9 1728.4 1110.9 1728.6 1111.9 1728.7 1112.9 1728.8 1113.8 1728.9 1114.8 1729.1 1115.8 1729.2 1116.8 1729.3 1117.8 1729.4 1118.8 1729.6 1119.8 1729.7 1120.8 1729.8 1121.8 1729.9 1122.8 1730.1 1123.8 1730.2 1124.8 1730.3 1125.8 1730.4 1126.8 1730.6 1127.7 1730.7 1128.7 1730.8 1129.7 1730.8 1129.8 M1731.9 1138.5 1731.9 1138.7 1732.0 1139.7 1732.1 1140.7 1732.3 1141.6 1732.4 1142.6 1732.5 1143.6 1732.6 1144.5 M1733.7 1153.3 1733.7 1153.6 1733.9 1154.6 1734.0 1155.6 1734.1 1156.5 1734.2 1157.5 1734.3 1158.5 1734.5 1159.5 1734.6 1160.5 1734.7 1161.5 1734.8 1162.5 1734.9 1163.5 1735.1 1164.5 1735.2 1165.5 1735.3 1166.5 1735.4 1167.5 1735.5 1168.5 1735.6 1169.5 1735.8 1170.5 1735.9 1171.5 1736.0 1172.4 1736.1 1173.4 1736.2 1174.4 1736.4 1175.4 1736.5 1176.4 1736.6 1177.1 M1737.6 1185.8 1737.7 1186.4 1737.8 1187.4 1737.9 1188.3 1738.0 1189.3 1738.1 1190.3 1738.2 1191.3 1738.3 1191.8 M1739.3 1200.6 1739.4 1201.3 1739.5 1202.3 1739.6 1203.3 1739.7 1204.3 1739.8 1205.2 1739.9 1206.2 1740.1 1207.2 1740.2 1208.2 1740.3 1209.2 1740.4 1210.2 1740.5 1211.2 1740.6 1212.2 1740.7 1213.2 1740.8 1214.2 1741.0 1215.2 1741.1 1216.2 1741.2 1217.2 1741.3 1218.2 1741.4 1219.2 1741.5 1220.2 1741.6 1221.2 1741.7 1222.1 1741.8 1223.1 1741.9 1224.1 1742.0 1224.4 M1742.9 1233.1 1743.0 1234.1 1743.1 1235.1 1743.2 1236.1 1743.3 1237.1 1743.4 1238.1 1743.6 1239.1 1743.6 1239.1 M1744.5 1247.9 1744.5 1248.0 1744.6 1249.0 1744.7 1250.0 1744.8 1251.0 1744.9 1252.0 1745.0 1253.0 1745.1 1254.0 1745.2 1255.0 1745.3 1256.0 1745.5 1257.0 1745.6 1258.0 1745.7 1259.0 1745.8 1260.0 1745.9 1261.0 1746.0 1261.9 1746.1 1262.9 1746.2 1263.9 1746.3 1264.9 1746.4 1265.9 1746.5 1266.9 1746.6 1267.9 1746.7 1268.9 1746.8 1269.9 1746.9 1270.9 1747.0 1271.7 M1748.0 1280.4 1748.0 1280.9 1748.1 1281.8 1748.2 1282.8 1748.3 1283.8 1748.4 1284.8 1748.5 1285.8 1748.6 1286.4 M1749.6 1295.2 1749.6 1295.8 1749.7 1296.8 1749.9 1297.8 1750.0 1298.8 1750.1 1299.8 1750.2 1300.7 1750.3 1301.7 1750.4 1302.7 1750.5 1303.7 1750.6 1304.7 1750.7 1305.7 1750.9 1306.7 1751.0 1307.7 1751.1 1308.7 1751.2 1309.7 1751.3 1310.7 1751.4 1311.7 1751.5 1312.7 1751.6 1313.7 1751.7 1314.7 1751.9 1315.7 1752.0 1316.7 1752.1 1317.7 1752.2 1318.6 1752.2 1319.0 M1753.2 1327.7 1753.3 1328.6 1753.4 1329.6 1753.5 1330.6 1753.6 1331.6 1753.8 1332.6 1753.9 1333.6 1753.9 1333.7 M1754.9 1342.5 1754.9 1342.5 1755.0 1343.5 1755.1 1344.5 1755.2 1345.5 1755.3 1346.5 1755.4 1347.5 1755.5 1348.5 1755.7 1349.5 1755.8 1350.5 1755.9 1351.5 1756.0 1352.5 1756.1 1353.5 1756.2 1354.4 1756.3 1355.4 1756.4 1356.4 1756.5 1357.4 1756.7 1358.4 1756.8 1359.4 1756.9 1360.4 1757.0 1361.4 1757.1 1362.4 1757.2 1363.4 1757.3 1364.4 1757.4 1365.4 1757.5 1366.3 M1758.5 1375.0 1758.5 1375.3 1758.6 1376.3 1758.7 1377.3 1758.8 1378.3 1758.9 1379.3 1759.1 1380.3 1759.1 1381.0 M1760.0 1389.8 1760.1 1390.3 1760.2 1391.3 1760.3 1392.3 1760.4 1393.2 1760.5 1394.2 1760.6 1395.2 1760.7 1396.2 1760.8 1397.2 1760.9 1398.2 1761.0 1399.2 1761.1 1400.2 1761.2 1401.2 1761.3 1402.2 1761.4 1403.2 1761.5 1404.2 1761.6 1405.2 1761.7 1406.2 1761.8 1407.2 1761.9 1408.2 1762.0 1409.2 1762.1 1410.2 1762.2 1411.2 1762.3 1412.2 1762.4 1413.2 1762.5 1413.6 M1763.4 1422.3 1763.4 1423.1 1763.5 1424.1 1763.7 1425.1 1763.8 1426.1 1763.9 1427.1 1764.0 1428.1 1764.0 1428.3 M1765.0 1437.1 1765.1 1438.0 1765.2 1439.0 1765.3 1440.0 1765.4 1441.0 1765.5 1442.0 1765.6 1443.0 1765.7 1444.0 1765.9 1445.0 1766.0 1446.0 1766.1 1447.0 1766.2 1448.0 1766.3 1449.0 1766.5 1450.0 1766.6 1451.0 1766.7 1452.0 1766.8 1452.9 1766.9 1453.9 1767.1 1454.9 1767.2 1455.9 1767.3 1456.9 1767.5 1457.9 1767.6 1458.9 1767.7 1459.9 1767.9 1460.9 1767.9 1460.9 M1769.1 1469.6 1769.1 1469.8 1769.3 1470.8 1769.4 1471.8 1769.6 1472.8 1769.7 1473.7 1769.9 1474.7 1770.0 1475.6 M1771.4 1484.4 1771.5 1484.6 1771.6 1485.6 1771.8 1486.6 1772.0 1487.6 1772.1 1488.6 1772.3 1489.6 1772.4 1490.5 1772.6 1491.5 1772.8 1492.5 1772.9 1493.5 1773.1 1494.5 1773.2 1495.5 1773.4 1496.5 1773.6 1497.5 1773.7 1498.5 1773.9 1499.4 1774.0 1500.4 1774.2 1501.4 1774.3 1502.4 1774.5 1503.4 1774.6 1504.4 1774.8 1505.4 1774.9 1506.4 1775.1 1507.4 1775.2 1508.2 M1776.5 1516.9 1776.5 1517.3 1776.7 1518.3 1776.8 1519.2 1776.9 1520.2 1777.1 1521.2 1777.2 1522.2 1777.3 1522.9 M1778.6 1531.7 1778.7 1532.1 1778.8 1533.1 1779.0 1534.1 1779.1 1535.1 1779.3 1536.1 1779.5 1537.1 1779.6 1538.0 1779.8 1539.0 1780.0 1540.0 1780.2 1541.0 1780.4 1542.0 1780.6 1543.0 1780.7 1543.9 1780.9 1544.9 1781.1 1545.9 1781.3 1546.9 1781.5 1547.9 1781.7 1548.9 1781.9 1549.9 1782.2 1550.8 1782.4 1551.8 1782.6 1552.8 1782.8 1553.8 1783.1 1554.7 1783.3 1555.5 M1785.8 1564.2 1785.9 1564.3 1786.2 1565.3 1786.5 1566.3 1786.9 1567.3 1787.3 1568.2 1787.7 1569.2 1788.1 1570.1 1788.2 1570.2 M1795.2 1577.9 1795.4 1578.0 1796.3 1578.1 1797.3 1578.2" stroke="#D95319"/>
<path d="M235.0 226.8 236.0 227.1 236.9 227.4 237.9 227.7 238.8 228.0 239.8 228.3 240.8 228.6 241.7 228.9 242.7 229.2 243.6 229.5 244.6 229.8 245.6 230.1 246.5 230.4 247.5 230.7 248.4 230.9 249.4 231.2 250.4 231.5 251.3 231.8 252.3 232.1 253.3 232.3 254.2 232.6 255.2 232.9 256.2 233.1 257.1 233.4 258.1 233.7 259.1 233.9 260.0 234.2 261.0 234.4 262.0 234.7 262.9 234.9 263.9 235.2 264.5 235.3 M282.3 239.3 282.4 239.3 283.4 239.5 284.4 239.6 285.4 239.8 286.4 240.0 287.3 240.2 288.3 240.3 289.3 240.5 290.3 240.7 291.3 240.8 292.3 241.0 293.2 241.1 294.2 241.3 295.2 241.5 296.2 241.6 297.2 241.8 298.2 241.9 299.2 242.1 300.2 242.2 301.1 242.3 302.1 242.5 303.1 242.6 304.1 242.8 305.1 242.9 306.1 243.0 307.1 243.2 308.1 243.3 309.1 243.4 310.1 243.6 311.1 243.7 311.8 243.8 M329.6 246.0 330.0 246.0 331.0 246.1 332.0 246.3 333.0 246.4 334.0 246.5 334.9 246.6 335.9 246.7 336.9 246.8 337.9 246.9 338.9 247.1 339.9 247.2 340.9 247.3 341.9 247.4 342.9 247.5 343.9 247.6 344.9 247.7 345.9 247.8 346.9 247.9 347.9 248.0 348.9 248.1 349.9 248.2 350.9 248.3 351.9 248.4 352.9 248.5 353.9 248.6 354.9 248.7 355.9 248.8 356.9 248.8 357.9 248.9 358.9 249.0 359.1 249.0 M376.9 250.6 377.8 250.7 378.8 250.8 379.8 250.9 380.8 251.0 381.8 251.1 382.8 251.2 383.8 251.4 384.8 251.5 385.8 251.6 386.8 251.7 387.8 251.8 388.7 251.9 389.7 252.0 390.7 252.2 391.7 252.3 392.7 252.4 393.7 252.6 394.7 252.7 395.7 252.8 396.6 253.0 397.6 253.1 398.6 253.3 399.6 253.4 400.6 253.6 401.6 253.8 402.6 253.9 403.5 254.1 404.5 254.3 405.5 254.5 406.4 254.7 M424.2 258.5 425.1 258.7 426.0 258.9 427.0 259.2 428.0 259.4 429.0 259.6 430.0 259.9 430.9 260.1 431.9 260.3 432.9 260.6 433.9 260.8 434.8 261.0 435.8 261.3 436.8 261.5 437.8 261.7 438.7 262.0 439.7 262.2 440.7 262.4 441.7 262.7 442.6 262.9 443.6 263.1 444.6 263.4 445.6 263.6 446.5 263.8 447.5 264.0 448.5 264.3 449.5 264.5 450.4 264.7 451.4 264.9 452.4 265.1 453.4 265.4 453.7 265.4 M471.5 269.6 471.9 269.7 472.8 269.9 473.8 270.2 474.8 270.4 475.8 270.6 476.7 270.9 477.7 271.1 478.7 271.3 479.7 271.6 480.6 271.8 481.6 272.0 482.6 272.3 483.6 272.5 484.5 272.7 485.5 273.0 486.5 273.2 487.4 273.4 488.4 273.7 489.4 273.9 490.4 274.1 491.3 274.4 492.3 274.6 493.3 274.8 494.3 275.1 495.2 275.3 496.2 275.5 497.2 275.8 498.2 276.0 499.1 276.2 500.1 276.4 501.0 276.6 M518.8 280.8 519.6 280.9 520.6 281.2 521.6 281.4 522.5 281.6 523.5 281.8 524.5 282.1 525.5 282.3 526.4 282.5 527.4 282.7 528.4 283.0 529.4 283.2 530.3 283.4 531.3 283.6 532.3 283.8 533.3 284.1 534.2 284.3 535.2 284.5 536.2 284.7 537.2 284.9 538.1 285.2 539.1 285.4 540.1 285.6 541.1 285.8 542.1 286.0 543.0 286.3 544.0 286.5 545.0 286.7 546.0 286.9 546.9 287.1 547.9 287.3 548.3 287.4 M566.1 291.2 566.5 291.3 567.5 291.5 568.5 291.7 569.4 291.9 570.4 292.1 571.4 292.3 572.4 292.5 573.4 292.7 574.3 293.0 575.3 293.2 576.3 293.4 577.3 293.6 578.3 293.8 579.2 294.0 580.2 294.2 581.2 294.4 582.2 294.6 583.2 294.8 584.1 295.0 585.1 295.2 586.1 295.4 587.1 295.6 588.1 295.8 589.0 296.0 590.0 296.2 591.0 296.4 592.0 296.6 593.0 296.8 594.0 296.9 594.9 297.1 595.6 297.3 M613.4 300.5 613.6 300.6 614.6 300.7 615.6 300.9 616.6 301.1 617.6 301.2 618.6 301.4 619.6 301.6 620.5 301.7 621.5 301.9 622.5 302.0 623.5 302.2 624.5 302.4 625.5 302.5 626.5 302.7 627.5 302.8 628.4 303.0 629.4 303.2 630.4 303.3 631.4 303.5 632.4 303.6 633.4 303.8 634.4 303.9 635.4 304.1 636.4 304.2 637.3 304.4 638.3 304.5 639.3 304.7 640.3 304.8 641.3 305.0 642.3 305.1 642.9 305.2 M660.7 307.7 661.1 307.8 662.1 307.9 663.1 308.0 664.1 308.2 665.1 308.3 666.1 308.4 667.1 308.6 668.1 308.7 669.1 308.8 670.1 308.9 671.0 309.1 672.0 309.2 673.0 309.3 674.0 309.4 675.0 309.5 676.0 309.7 677.0 309.8 678.0 309.9 679.0 310.0 680.0 310.1 681.0 310.3 682.0 310.4 683.0 310.5 684.0 310.6 685.0 310.7 685.9 310.8 686.9 310.9 687.9 311.0 688.9 311.2 689.9 311.3 690.2 311.3 M708.0 313.2 708.8 313.3 709.8 313.4 710.8 313.5 711.8 313.6 712.8 313.7 713.8 313.8 714.8 313.9 715.8 314.0 716.8 314.1 717.8 314.2 718.8 314.3 719.8 314.4 720.8 314.5 721.8 314.6 722.8 314.7 723.8 314.8 724.8 314.9 725.8 315.0 726.8 315.1 727.8 315.2 728.8 315.3 729.7 315.3 730.7 315.4 731.7 315.5 732.7 315.6 733.7 315.7 734.7 315.8 735.7 315.9 736.7 316.0 737.5 316.1 M755.3 317.6 755.7 317.6 756.7 317.7 757.7 317.8 758.7 317.9 759.7 318.0 760.6 318.1 761.6 318.2 762.6 318.2 763.6 318.3 764.6 318.4 765.6 318.5 766.6 318.6 767.6 318.7 768.6 318.8 769.6 318.9 770.6 318.9 771.6 319.0 772.6 319.1 773.6 319.2 774.6 319.3 775.6 319.4 776.6 319.5 777.6 319.6 778.6 319.7 779.6 319.8 780.6 319.8 781.6 319.9 782.6 320.0 783.6 320.1 784.6 320.2 784.8 320.2 M802.6 321.8 803.5 321.9 804.5 321.9 805.5 322.0 806.5 322.1 807.5 322.2 808.5 322.3 809.5 322.4 810.5 322.5 811.5 322.6 812.5 322.7 813.5 322.8 814.5 322.9 815.5 323.0 816.5 323.0 817.5 323.1 818.5 323.2 819.5 323.3 820.5 323.4 821.4 323.5 822.4 323.6 823.4 323.7 824.4 323.8 825.4 323.9 826.4 324.1 827.4 324.2 828.4 324.3 829.4 324.4 830.4 324.5 831.4 324.6 832.1 324.7 M849.9 326.9 850.3 327.0 851.2 327.1 852.2 327.3 853.2 327.4 854.2 327.5 855.2 327.7 856.2 327.8 857.2 327.9 858.2 328.1 859.2 328.2 860.2 328.4 861.2 328.5 862.2 328.6 863.1 328.8 864.1 328.9 865.1 329.0 866.1 329.2 867.1 329.3 868.1 329.5 869.1 329.6 870.1 329.8 871.1 329.9 872.1 330.0 873.1 330.2 874.0 330.3 875.0 330.5 876.0 330.6 877.0 330.8 878.0 330.9 879.0 331.1 879.4 331.1 M897.2 333.8 897.8 333.9 898.8 334.1 899.8 334.2 900.8 334.4 901.7 334.6 902.7 334.7 903.7 334.9 904.7 335.0 905.7 335.2 906.7 335.4 907.7 335.5 908.7 335.7 909.6 335.9 910.6 336.0 911.6 336.2 912.6 336.4 913.6 336.5 914.6 336.7 915.6 336.9 916.5 337.0 917.5 337.2 918.5 337.4 919.5 337.6 920.5 337.7 921.5 337.9 922.5 338.1 923.4 338.3 924.4 338.4 925.4 338.6 926.4 338.8 926.7 338.8 M944.5 342.2 945.1 342.3 946.1 342.5 947.0 342.7 948.0 342.9 949.0 343.1 950.0 343.2 951.0 343.4 952.0 343.6 952.9 343.8 953.9 344.0 954.9 344.2 955.9 344.4 956.9 344.6 957.9 344.7 958.8 344.9 959.8 345.1 960.8 345.3 961.8 345.5 962.8 345.7 963.8 345.9 964.7 346.0 965.7 346.2 966.7 346.4 967.7 346.6 968.7 346.8 969.7 347.0 970.6 347.2 971.6 347.3 972.6 347.5 973.6 347.7 974.0 347.8 M991.8 351.2 992.3 351.3 993.2 351.5 994.2 351.7 995.2 351.9 996.2 352.1 997.2 352.3 998.2 352.4 999.1 352.6 1000.1 352.8 1001.1 353.0 1002.1 353.2 1003.1 353.4 1004.1 353.6 1005.0 353.8 1006.0 353.9 1007.0 354.1 1008.0 354.3 1009.0 354.5 1010.0 354.7 1010.9 354.9 1011.9 355.0 1012.9 355.2 1013.9 355.4 1014.9 355.6 1015.9 355.8 1016.8 356.0 1017.8 356.1 1018.8 356.3 1019.8 356.5 1020.8 356.7 1021.3 356.8 M1039.1 359.9 1039.5 360.0 1040.5 360.1 1041.5 360.3 1042.5 360.5 1043.5 360.6 1044.4 360.8 1045.4 361.0 1046.4 361.1 1047.4 361.3 1048.4 361.5 1049.4 361.7 1050.4 361.8 1051.3 362.0 1052.3 362.2 1053.3 362.3 1054.3 362.5 1055.3 362.7 1056.3 362.8 1057.3 363.0 1058.2 363.2 1059.2 363.4 1060.2 363.5 1061.2 363.7 1062.2 363.9 1063.2 364.1 1064.2 364.2 1065.1 364.4 1066.1 364.6 1067.1 364.8 1068.1 364.9 1068.6 365.0 M1086.4 368.4 1086.8 368.5 1087.8 368.7 1088.7 368.9 1089.7 369.0 1090.7 369.2 1091.7 369.4 1092.7 369.6 1093.6 369.8 1094.6 370.0 1095.6 370.2 1096.6 370.4 1097.6 370.6 1098.6 370.8 1099.5 371.0 1100.5 371.2 1101.5 371.4 1102.5 371.6 1103.5 371.8 1104.4 372.0 1105.4 372.2 1106.4 372.4 1107.4 372.6 1108.4 372.8 1109.3 373.0 1110.3 373.2 1111.3 373.4 1112.3 373.6 1113.3 373.8 1114.3 374.0 1115.2 374.2 1115.9 374.3 M1133.7 377.6 1133.9 377.7 1134.9 377.9 1135.9 378.0 1136.9 378.2 1137.9 378.4 1138.8 378.6 1139.8 378.7 1140.8 378.9 1141.8 379.1 1142.8 379.3 1143.8 379.4 1144.7 379.6 1145.7 379.8 1146.7 380.0 1147.7 380.1 1148.7 380.3 1149.7 380.5 1150.7 380.7 1151.6 380.8 1152.6 381.0 1153.6 381.2 1154.6 381.3 1155.6 381.5 1156.6 381.7 1157.6 381.8 1158.6 382.0 1159.5 382.2 1160.5 382.4 1161.5 382.5 1162.5 382.7 1163.2 382.8 M1181.0 385.9 1181.2 385.9 1182.2 386.1 1183.2 386.3 1184.2 386.5 1185.2 386.6 1186.2 386.8 1187.1 387.0 1188.1 387.2 1189.1 387.3 1190.1 387.5 1191.1 387.7 1192.1 387.8 1193.1 388.0 1194.0 388.2 1195.0 388.4 1196.0 388.5 1197.0 388.7 1198.0 388.9 1199.0 389.0 1200.0 389.2 1200.9 389.4 1201.9 389.6 1202.9 389.7 1203.9 389.9 1204.9 390.1 1205.9 390.2 1206.9 390.4 1207.8 390.6 1208.8 390.8 1209.8 390.9 1210.5 391.0 M1228.3 394.2 1228.5 394.2 1229.5 394.4 1230.5 394.6 1231.5 394.7 1232.5 394.9 1233.5 395.1 1234.5 395.3 1235.4 395.4 1236.4 395.6 1237.4 395.8 1238.4 396.0 1239.4 396.2 1240.4 396.3 1241.3 396.5 1242.3 396.7 1243.3 396.9 1244.3 397.0 1245.3 397.2 1246.3 397.4 1247.3 397.6 1248.2 397.8 1249.2 397.9 1250.2 398.1 1251.2 398.3 1252.2 398.5 1253.2 398.7 1254.1 398.8 1255.1 399.0 1256.1 399.2 1257.1 399.4 1257.8 399.5 M1275.6 402.8 1275.8 402.8 1276.8 403.0 1277.8 403.2 1278.7 403.4 1279.7 403.6 1280.7 403.8 1281.7 404.0 1282.7 404.1 1283.7 404.3 1284.6 404.5 1285.6 404.7 1286.6 404.9 1287.6 405.1 1288.6 405.3 1289.6 405.4 1290.5 405.6 1291.5 405.8 1292.5 406.0 1293.5 406.2 1294.5 406.4 1295.5 406.6 1296.4 406.8 1297.4 407.0 1298.4 407.2 1299.4 407.4 1300.4 407.5 1301.3 407.7 1302.3 407.9 1303.3 408.1 1304.3 408.3 1305.1 408.5 M1322.9 411.8 1323.0 411.8 1324.0 412.0 1325.0 412.2 1325.9 412.3 1326.9 412.5 1327.9 412.6 1328.9 412.8 1329.9 413.0 1330.9 413.1 1331.9 413.3 1332.9 413.4 1333.8 413.6 1334.8 413.8 1335.8 413.9 1336.8 414.1 1337.8 414.2 1338.8 414.4 1339.8 414.5 1340.8 414.6 1341.8 414.8 1342.8 414.9 M1343.5 415.0 1343.6 416.0 1343.6 417.0 1343.7 418.0 1343.8 419.0 1343.8 420.0 1343.9 421.0 1344.0 422.0 1344.0 423.0 1344.1 424.0 1344.1 424.3 M1345.2 442.1 1345.2 443.1 1345.3 444.1 1345.3 445.1 1345.3 446.1 1345.4 447.1 1345.4 448.1 1345.5 449.1 1345.5 450.1 1345.5 451.1 1345.6 452.1 1345.6 453.1 1345.6 454.1 1345.7 455.1 1345.7 456.1 1345.8 457.1 1345.8 458.1 1345.8 459.1 1345.9 460.1 1345.9 461.1 1345.9 462.1 1346.0 463.1 1346.0 464.1 1346.0 465.1 1346.0 466.1 1346.1 467.1 1346.1 468.1 1346.1 469.1 1346.2 470.1 1346.2 471.1 1346.2 471.6 M1346.7 489.4 1346.7 490.2 1346.7 491.2 1346.7 492.2 1346.7 493.2 1346.7 494.2 1346.8 495.2 1346.8 496.2 1346.8 497.2 1346.8 498.2 1346.8 499.2 1346.9 500.2 1346.9 501.2 1346.9 502.2 1346.9 503.2 1346.9 504.2 1346.9 505.2 1346.9 506.2 1346.9 507.2 1347.0 508.3 1347.0 509.3 1347.0 510.3 1347.0 511.3 1347.0 512.3 1347.0 513.3 1347.0 514.3 1347.0 515.3 1347.1 516.3 1347.1 517.3 1347.1 518.3 1347.1 518.9 M1347.3 536.7 1347.3 537.3 1347.3 538.3 1347.3 539.4 1347.3 540.4 1347.3 541.4 1347.3 542.4 1347.3 543.4 1347.3 544.4 1347.4 545.4 1347.4 546.4 1347.4 547.4 1347.4 548.4 1347.4 549.4 1347.4 550.4 1347.4 551.4 1347.4 552.4 1347.4 553.4 1347.4 554.4 1347.4 555.4 1347.4 556.4 1347.4 557.4 1347.5 558.4 1347.5 559.4 1347.5 560.4 1347.5 561.4 1347.5 562.4 1347.5 563.4 1347.5 564.4 1347.5 565.4 1347.5 566.2 M1347.6 584.0 1347.6 584.5 1347.6 585.5 1347.6 586.5 1347.6 587.5 1347.7 588.5 1347.7 589.5 1347.7 590.5 1347.7 591.5 1347.7 592.5 1347.7 593.5 1347.7 594.5 1347.7 595.5 1347.7 596.5 1347.7 597.5 1347.7 598.5 1347.7 599.6 1347.7 600.6 1347.7 601.6 1347.7 602.6 1347.7 603.6 1347.8 604.6 1347.8 605.6 1347.8 606.6 1347.8 607.6 1347.8 608.6 1347.8 609.6 1347.8 610.6 1347.8 611.6 1347.8 612.6 1347.8 613.5 M1347.9 631.3 1347.9 631.7 1347.9 632.7 1347.9 633.7 1347.9 634.7 1347.9 635.7 1348.0 636.7 1348.0 637.7 1348.0 638.7 1348.0 639.7 1348.0 640.7 1348.0 641.7 1348.0 642.7 1348.0 643.7 1348.0 644.7 1348.0 645.7 1348.0 646.7 1348.0 647.7 1348.0 648.7 1348.1 649.7 1348.1 650.7 1348.1 651.7 1348.1 652.7 1348.1 653.7 1348.1 654.7 1348.1 655.7 1348.1 656.7 1348.1 657.7 1348.1 658.7 1348.1 659.8 1348.1 660.8 1348.1 660.8 M1348.3 678.6 1348.3 678.8 1348.3 679.8 1348.4 680.8 1348.4 681.8 1348.4 682.8 1348.4 683.8 1348.4 684.8 1348.4 685.8 1348.4 686.8 1348.4 687.8 1348.4 688.8 1348.5 689.8 1348.5 690.9 1348.5 691.9 1348.5 692.9 1348.5 693.9 1348.5 694.9 1348.5 695.9 1348.6 696.9 1348.6 697.9 1348.6 698.9 1348.6 699.9 1348.6 700.9 1348.6 701.9 1348.6 702.9 1348.7 703.9 1348.7 704.9 1348.7 705.9 1348.7 706.9 1348.7 707.9 1348.7 708.1 M1349.0 725.9 1349.0 726.0 1349.0 727.0 1349.0 728.0 1349.0 729.0 1349.1 730.0 1349.1 731.0 1349.1 732.0 1349.1 733.0 1349.1 734.0 1349.1 735.0 1349.2 736.0 1349.2 737.0 1349.2 738.0 1349.2 739.0 1349.2 740.0 1349.2 741.0 1349.3 742.0 1349.3 743.0 1349.3 744.0 1349.3 745.0 1349.3 746.0 1349.4 747.0 1349.4 748.0 1349.4 749.0 1349.4 750.0 1349.4 751.0 1349.4 752.0 1349.5 753.1 1349.5 754.1 1349.5 755.1 1349.5 755.4 M1349.8 773.2 1349.8 774.1 1349.8 775.1 1349.8 776.1 1349.9 777.1 1349.9 778.1 1349.9 779.1 1349.9 780.1 1349.9 781.1 1349.9 782.1 1350.0 783.1 1350.0 784.2 1350.0 785.2 1350.0 786.2 1350.0 787.2 1350.0 788.2 1350.0 789.2 1350.1 790.2 1350.1 791.2 1350.1 792.2 1350.1 793.2 1350.1 794.2 1350.1 795.2 1350.2 796.2 1350.2 797.2 1350.2 798.2 1350.2 799.2 1350.2 800.2 1350.2 801.2 1350.2 802.2 1350.2 802.7 M1350.5 820.5 1350.5 821.3 1350.5 822.3 1350.5 823.3 1350.5 824.3 1350.5 825.3 1350.5 826.3 1350.6 827.3 1350.6 828.3 1350.6 829.3 1350.6 830.3 1350.6 831.3 1350.6 832.3 1350.6 833.3 1350.6 834.3 1350.6 835.3 1350.7 836.3 1350.7 837.3 1350.7 838.3 1350.7 839.3 1350.7 840.3 1350.7 841.3 1350.7 842.3 1350.7 843.3 1350.8 844.3 1350.8 845.3 1350.8 846.4 1350.8 847.4 1350.8 848.4 1350.8 849.4 1350.8 850.0 M1351.0 867.8 1351.0 868.4 1351.0 869.4 1351.0 870.4 1351.1 871.4 1351.1 872.4 1351.1 873.4 1351.1 874.4 1351.1 875.4 1351.1 876.4 1351.1 877.5 1351.1 878.5 1351.1 879.5 1351.1 880.5 1351.2 881.5 1351.2 882.5 1351.2 883.5 1351.2 884.5 1351.2 885.5 1351.2 886.5 1351.2 887.5 1351.2 888.5 1351.2 889.5 1351.2 890.5 1351.3 891.5 1351.3 892.5 1351.3 893.5 1351.3 894.5 1351.3 895.5 1351.3 896.5 1351.3 897.3 M1351.5 915.1 1351.5 915.6 1351.5 916.6 1351.5 917.6 1351.5 918.6 1351.5 919.6 1351.5 920.6 1351.5 921.6 1351.6 922.6 1351.6 923.6 1351.6 924.6 1351.6 925.6 1351.6 926.6 1351.6 927.6 1351.6 928.6 1351.6 929.6 1351.6 930.6 1351.6 931.6 1351.6 932.6 1351.6 933.6 1351.7 934.6 1351.7 935.6 1351.7 936.6 1351.7 937.7 1351.7 938.7 1351.7 939.7 1351.7 940.7 1351.7 941.7 1351.7 942.7 1351.7 943.7 1351.7 944.6 M1351.8 952.4 1351.8 951.7 1351.8 950.7 1351.9 949.7 1351.9 948.7 1351.9 947.7 1351.9 946.7 1351.9 945.7 1352.0 944.7 1352.0 943.7 1352.0 942.7 1352.0 941.7 1352.1 940.7 1352.1 939.7 1352.1 938.7 1352.2 937.7 1352.2 936.7 1352.2 935.7 1352.2 934.7 1352.3 933.7 1352.3 932.7 1352.3 931.7 1352.4 930.7 1352.4 929.7 1352.4 928.7 1352.5 927.7 1352.5 926.7 1352.5 925.7 1352.6 924.7 1352.6 923.7 1352.6 922.9 M1353.4 905.1 1353.4 904.6 1353.5 903.6 1353.5 902.6 1353.6 901.6 1353.6 900.6 1353.7 899.6 1353.7 898.6 1353.8 897.6 1353.8 896.6 1353.9 895.6 1353.9 894.6 1354.0 893.6 1354.0 892.6 1354.1 891.6 1354.2 890.6 1354.2 889.6 1354.3 888.6 1354.3 887.6 1354.4 886.6 1354.4 885.6 1354.5 884.6 1354.5 883.6 1354.5 882.6 1354.6 881.6 1354.6 880.6 1354.7 879.6 1354.7 878.6 1354.8 877.6 1354.8 876.6 1354.9 875.6 1354.9 875.6 M1355.6 857.8 1355.7 857.6 1355.7 856.6 1355.7 855.6 1355.8 854.6 1355.8 853.6 1355.9 852.6 1355.9 851.6 1356.0 850.6 1356.0 849.6 1356.0 848.6 1356.1 847.6 1356.1 846.6 1356.2 845.6 1356.2 844.6 1356.2 843.6 1356.3 842.6 1356.3 841.6 1356.4 840.6 1356.4 839.6 1356.4 838.6 1356.5 837.6 1356.5 836.6 1356.6 835.6 1356.6 834.6 1356.6 833.6 1356.7 832.6 1356.7 831.6 1356.7 830.6 1356.8 829.6 1356.8 828.6 1356.8 828.3 M1357.5 810.5 1357.5 809.6 1357.5 808.6 1357.6 807.6 1357.6 806.6 1357.7 805.6 1357.7 804.6 1357.7 803.6 1357.8 802.6 1357.8 801.6 1357.9 800.6 1357.9 799.6 1357.9 798.6 1358.0 797.6 1358.0 796.6 1358.1 795.6 1358.1 794.6 1358.2 793.6 1358.2 792.6 1358.3 791.6 1358.3 790.6 1358.4 789.6 1358.4 788.6 1358.5 787.6 1358.5 786.6 1358.6 785.6 1358.6 784.6 1358.7 783.6 1358.7 782.6 1358.8 781.6 1358.8 781.0 M1359.8 763.2 1359.8 762.5 1359.9 761.5 1359.9 760.5 1360.0 759.5 1360.1 758.5 1360.1 757.5 1360.2 756.5 1360.2 755.5 1360.3 754.5 1360.3 753.5 1360.4 752.5 1360.5 751.5 1360.5 750.5 1360.6 749.5 1360.6 748.5 1360.7 747.5 1360.7 746.5 1360.8 745.5 1360.8 744.5 1360.9 743.5 1361.0 742.5 1361.0 741.5 1361.1 740.5 1361.1 739.5 1361.2 738.5 1361.2 737.5 1361.3 736.5 1361.4 735.5 1361.4 734.5 1361.5 733.7 M1362.5 715.9 1362.5 715.5 1362.6 714.5 1362.6 713.5 1362.7 712.5 1362.7 711.5 1362.8 710.5 1362.9 709.5 1362.9 708.5 1363.0 707.5 1363.0 706.5 1363.1 705.5 1363.2 704.5 1363.2 703.5 1363.3 702.5 1363.4 701.5 1363.4 700.5 1363.5 699.5 1363.5 698.5 1363.6 697.5 1363.7 696.5 1363.7 695.5 1363.8 694.5 1363.9 693.5 1363.9 692.5 1364.0 691.6 1364.1 690.6 1364.1 689.6 1364.2 688.6 1364.3 687.6 1364.3 686.6 1364.3 686.4 M1365.6 668.6 1365.6 668.6 1365.7 667.6 1365.8 666.6 1365.8 665.6 1365.9 664.6 1366.0 663.6 1366.1 662.6 1366.1 661.6 1366.2 660.6 1366.3 659.6 1366.4 658.6 1366.4 657.6 1366.5 656.6 1366.6 655.6 1366.7 654.6 1366.8 653.6 1366.8 652.6 1366.9 651.6 1367.0 650.6 1367.1 649.6 1367.2 648.6 1367.2 647.6 1367.3 646.6 1367.4 645.6 1367.5 644.6 1367.6 643.6 1367.7 642.6 1367.7 641.6 1367.8 640.6 1367.9 639.6 1368.0 639.1 M1369.6 621.3 1369.6 620.6 1369.7 619.6 1369.8 618.6 1369.9 617.7 1370.1 616.7 1370.2 615.7 1370.3 614.7 1370.4 613.7 1370.5 612.7 1370.6 611.7 1370.7 610.7 1370.8 609.7 1370.9 608.7 1371.1 607.7 1371.2 606.7 1371.3 605.7 1371.4 604.7 1371.5 603.7 1371.7 602.7 1371.8 601.7 1371.9 600.8 1372.0 599.8 1372.2 598.8 1372.3 597.8 1372.4 596.8 1372.6 595.8 1372.7 594.8 1372.9 593.8 1373.0 592.8 1373.2 591.8 1373.2 591.8 M1376.1 574.0 1376.1 574.0 1376.3 573.0 1376.4 572.0 1376.6 571.0 1376.8 570.0 1377.0 569.1 1377.2 568.1 1377.4 567.1 1377.6 566.1 1377.8 565.1 1378.0 564.2 1378.2 563.2 1378.4 562.2 1378.6 561.2 1378.8 560.2 1379.0 559.3 1379.2 558.3 1379.4 557.3 1379.6 556.3 1379.9 555.4 1380.1 554.4 1380.3 553.4 1380.6 552.4 1380.8 551.5 1381.0 550.5 1381.3 549.5 1381.5 548.5 1381.8 547.5 1382.1 546.6 1382.3 545.6 1382.6 544.6 1382.6 544.5 M1388.4 526.7 1388.5 526.6 1388.8 525.6 1389.2 524.7 1389.6 523.8 1390.0 522.9 1390.4 522.0 1390.8 521.0 1391.2 520.1 1391.6 519.2 1392.0 518.3 1392.5 517.4 1392.9 516.5 1393.4 515.6 1393.8 514.7 1394.3 513.8 1394.8 512.9 1395.2 512.0 1395.7 511.1 1396.2 510.2 1396.7 509.4 1397.2 508.5 1397.7 507.6 1398.2 506.7 1398.7 505.9 1399.2 505.0 1399.8 504.1 1400.3 503.3 1400.8 502.4 1401.3 501.6 1401.8 500.8 1402.4 499.9 1402.9 499.1 1403.5 498.2 1404.0 497.4 1404.2 497.2 M1418.4 479.4 1419.1 478.7 1419.8 478.0 1420.5 477.3 1421.2 476.6 1421.9 475.9 1422.7 475.3 1423.4 474.6 1424.1 473.9 1424.9 473.3 1425.7 472.6 1426.4 471.9 1427.2 471.3 1428.0 470.7 1428.7 470.0 1429.5 469.4 1430.3 468.7 1431.1 468.1 1431.9 467.5 1432.7 466.9 1433.5 466.3 1434.3 465.6 1435.1 465.0 1435.9 464.4 1436.7 463.8 1437.6 463.2 1438.4 462.6 1439.2 462.1 1440.0 461.5 1440.8 460.9 1441.7 460.3 1442.5 459.7 1443.3 459.2 1444.2 458.6 1445.0 458.1 1445.8 457.5 1446.6 456.9 1447.5 456.4 1447.9 456.1 M1465.7 445.9 1466.6 445.4 1467.5 444.9 1468.3 444.5 1469.2 444.0 1470.1 443.5 1471.0 443.1 1471.9 442.6 1472.8 442.1 1473.7 441.7 1474.6 441.2 1475.4 440.8 1476.3 440.3 1477.2 439.8 1478.1 439.4 1479.0 438.9 1479.9 438.5 1480.8 438.0 1481.7 437.6 1482.6 437.1 1483.5 436.7 1484.4 436.2 1485.3 435.8 1486.2 435.3 1487.1 434.9 1488.0 434.5 1488.9 434.0 1489.8 433.6 1490.7 433.1 1491.6 432.7 1492.5 432.2 1493.4 431.8 1494.3 431.3 1495.2 430.9 1495.2 430.9 M1513.0 422.1 1513.1 422.0 1514.0 421.6 1514.9 421.1 1515.8 420.6 1516.7 420.2 1517.5 419.7 1518.4 419.2 1519.3 418.7 1520.2 418.2 1521.1 417.8 1521.9 417.3 1522.8 416.8 1523.7 416.3 1524.6 415.8 1525.4 415.3 1526.3 414.8 1527.2 414.3 1528.0 413.8 1528.9 413.3 1529.8 412.8 1530.7 412.3 1531.5 411.8 1532.4 411.3 1533.3 410.8 1534.1 410.3 1535.0 409.8 1535.8 409.3 1536.7 408.8 1537.6 408.3 1538.4 407.7 1539.3 407.2 1540.1 406.7 1541.0 406.2 1541.9 405.7 1542.5 405.3 M1560.3 393.9 1560.4 393.8 1561.3 393.3 1562.1 392.8 1563.0 392.2 1563.8 391.7 1564.7 391.1 1565.5 390.6 1566.3 390.0 1567.2 389.5 1568.0 389.0 1568.9 388.4 1569.7 387.9 1570.6 387.4 1571.4 386.9 1572.3 386.4 1573.2 385.9 1574.1 385.4 1574.9 384.9 1575.8 384.4 1576.7 383.9 1577.6 383.5 1578.5 383.0 1579.4 382.6 1580.3 382.1 1581.2 381.7 1582.1 381.2 1583.0 380.8 1583.9 380.4 1584.8 380.0 1585.7 379.6 1586.6 379.2 1587.5 378.7 1588.4 378.3 1589.3 377.7 1589.8 377.4 M1607.6 370.8 1607.7 370.8 1608.5 371.1 1609.4 371.8 1610.2 372.5 1610.9 373.3 1611.5 374.0 1612.2 374.8 1612.7 375.6 1613.3 376.5 1613.9 377.3 1614.4 378.1 1615.0 379.0 1615.5 379.8 1616.1 380.7 1616.6 381.5 1617.1 382.4 1617.6 383.2 1618.2 384.1 1618.7 384.9 1619.2 385.8 1619.7 386.7 1620.2 387.5 1620.7 388.4 1621.2 389.3 1621.7 390.1 1622.1 391.0 1622.6 391.9 1623.1 392.8 1623.6 393.7 1624.0 394.6 1624.5 395.4 1625.0 396.3 1625.4 397.2 1625.9 398.1 1626.3 399.0 1626.5 399.5 M1632.5 417.3 1632.6 418.0 1632.8 419.0 1633.0 419.9 1633.3 420.9 1633.5 421.9 1633.7 422.9 1633.9 423.9 1634.1 424.8 1634.3 425.8 1634.6 426.8 1634.8 427.8 1635.0 428.7 1635.3 429.7 1635.5 430.7 1635.7 431.7 1636.0 432.6 1636.2 433.6 1636.5 434.6 1636.7 435.5 1636.9 436.5 1637.2 437.5 1637.4 438.5 1637.7 439.4 1637.9 440.4 1638.1 441.4 1638.4 442.4 1638.6 443.3 1638.8 444.3 1639.1 445.3 1639.3 446.3 1639.4 446.8 M1644.1 464.6 1644.1 465.0 1644.3 466.0 1644.4 467.0 1644.6 467.9 1644.8 468.9 1644.9 469.9 1645.1 470.9 1645.3 471.9 1645.5 472.9 1645.6 473.9 1645.8 474.8 1646.0 475.8 1646.2 476.8 1646.4 477.8 1646.5 478.8 1646.7 479.8 1646.9 480.7 1647.1 481.7 1647.3 482.7 1647.5 483.7 1647.6 484.7 1647.8 485.7 1648.0 486.7 1648.2 487.6 1648.4 488.6 1648.5 489.6 1648.7 490.6 1648.9 491.6 1649.1 492.6 1649.2 493.5 1649.3 494.1 M1652.0 511.9 1652.1 512.3 1652.2 513.3 1652.3 514.3 1652.5 515.3 1652.6 516.3 1652.8 517.3 1652.9 518.3 1653.0 519.3 1653.2 520.3 1653.3 521.3 1653.5 522.3 1653.6 523.2 1653.7 524.2 1653.9 525.2 1654.0 526.2 1654.2 527.2 1654.3 528.2 1654.5 529.2 1654.6 530.2 1654.8 531.2 1655.0 532.1 1655.1 533.1 1655.3 534.1 1655.5 535.1 1655.6 536.1 1655.8 537.1 1656.0 538.1 1656.2 539.1 1656.3 540.0 1656.5 541.0 1656.6 541.4 M1659.3 559.2 1659.4 559.8 1659.5 560.8 1659.7 561.8 1659.8 562.8 1659.9 563.8 1660.1 564.8 1660.2 565.8 1660.3 566.8 1660.4 567.7 1660.6 568.7 1660.7 569.7 1660.8 570.7 1660.9 571.7 1661.1 572.7 1661.2 573.7 1661.3 574.7 1661.4 575.7 1661.6 576.7 1661.7 577.7 1661.8 578.7 1661.9 579.7 1662.0 580.7 1662.2 581.6 1662.3 582.6 1662.4 583.6 1662.5 584.6 1662.6 585.6 1662.8 586.6 1662.9 587.6 1663.0 588.6 1663.0 588.7 M1665.1 606.5 1665.1 606.5 1665.2 607.5 1665.3 608.5 1665.5 609.5 1665.6 610.5 1665.7 611.5 1665.8 612.5 1665.9 613.5 1666.1 614.4 1666.2 615.4 1666.3 616.4 1666.4 617.4 1666.5 618.4 1666.7 619.4 1666.8 620.4 1666.9 621.4 1667.0 622.4 1667.2 623.4 1667.3 624.4 1667.4 625.4 1667.5 626.4 1667.7 627.4 1667.8 628.3 1667.9 629.3 1668.0 630.3 1668.2 631.3 1668.3 632.3 1668.4 633.3 1668.6 634.3 1668.7 635.3 1668.8 636.0 M1671.1 653.8 1671.1 654.1 1671.3 655.1 1671.4 656.1 1671.5 657.1 1671.6 658.1 1671.8 659.1 1671.9 660.1 1672.0 661.1 1672.2 662.1 1672.3 663.1 1672.4 664.1 1672.6 665.1 1672.7 666.1 1672.8 667.0 1672.9 668.0 1673.1 669.0 1673.2 670.0 1673.3 671.0 1673.5 672.0 1673.6 673.0 1673.7 674.0 1673.8 675.0 1674.0 676.0 1674.1 677.0 1674.2 678.0 1674.4 679.0 1674.5 679.9 1674.6 680.9 1674.7 681.9 1674.9 682.9 1674.9 683.3 M1677.1 701.1 1677.2 701.8 1677.4 702.8 1677.5 703.8 1677.6 704.8 1677.7 705.8 1677.8 706.8 1678.0 707.7 1678.1 708.7 1678.2 709.7 1678.3 710.7 1678.5 711.7 1678.6 712.7 1678.7 713.7 1678.8 714.7 1678.9 715.7 1679.1 716.7 1679.2 717.7 1679.3 718.7 1679.4 719.7 1679.5 720.7 1679.7 721.7 1679.8 722.6 1679.9 723.6 1680.0 724.6 1680.1 725.6 1680.3 726.6 1680.4 727.6 1680.5 728.6 1680.6 729.6 1680.7 730.6 M1682.9 748.4 1682.9 748.5 1683.0 749.5 1683.1 750.5 1683.3 751.5 1683.4 752.5 1683.5 753.4 1683.6 754.4 1683.7 755.4 1683.9 756.4 1684.0 757.4 1684.1 758.4 1684.2 759.4 1684.3 760.4 1684.5 761.4 1684.6 762.4 1684.7 763.4 1684.8 764.4 1685.0 765.4 1685.1 766.4 1685.2 767.4 1685.3 768.3 1685.4 769.3 1685.6 770.3 1685.7 771.3 1685.8 772.3 1685.9 773.3 1686.1 774.3 1686.2 775.3 1686.3 776.3 1686.4 777.3 1686.5 777.9 M1688.7 795.7 1688.8 796.1 1688.9 797.1 1689.0 798.1 1689.1 799.1 1689.3 800.1 1689.4 801.1 1689.5 802.1 1689.6 803.1 1689.8 804.1 1689.9 805.1 1690.0 806.1 1690.1 807.1 1690.3 808.1 1690.4 809.1 1690.5 810.1 1690.6 811.0 1690.8 812.0 1690.9 813.0 1691.0 814.0 1691.1 815.0 1691.3 816.0 1691.4 817.0 1691.5 818.0 1691.6 819.0 1691.8 820.0 1691.9 821.0 1692.0 822.0 1692.1 823.0 1692.3 824.0 1692.4 824.9 1692.4 825.2 M1694.6 843.0 1694.7 843.8 1694.9 844.8 1695.0 845.8 1695.1 846.8 1695.2 847.8 1695.4 848.8 1695.5 849.8 1695.6 850.8 1695.7 851.8 1695.9 852.7 1696.0 853.7 1696.1 854.7 1696.2 855.7 1696.4 856.7 1696.5 857.7 1696.6 858.7 1696.7 859.7 1696.9 860.7 1697.0 861.7 1697.1 862.7 1697.2 863.7 1697.4 864.7 1697.5 865.7 1697.6 866.6 1697.7 867.6 1697.9 868.6 1698.0 869.6 1698.1 870.6 1698.2 871.6 1698.4 872.5 M1700.6 890.3 1700.6 890.5 1700.7 891.5 1700.9 892.5 1701.0 893.4 1701.1 894.4 1701.2 895.4 1701.4 896.4 1701.5 897.4 1701.6 898.4 1701.7 899.4 1701.9 900.4 1702.0 901.4 1702.1 902.4 1702.2 903.4 1702.4 904.4 1702.5 905.4 1702.6 906.4 1702.7 907.3 1702.9 908.3 1703.0 909.3 1703.1 910.3 1703.2 911.3 1703.4 912.3 1703.5 913.3 1703.6 914.3 1703.7 915.3 1703.9 916.3 1704.0 917.3 1704.1 918.3 1704.2 919.3 1704.3 919.8 M1706.5 937.6 1706.6 938.1 1706.7 939.1 1706.8 940.1 1707.0 941.1 1707.1 942.1 1707.2 943.1 1707.3 944.1 1707.5 945.1 1707.6 946.1 1707.7 947.1 1707.8 948.1 1707.9 949.1 1708.1 950.0 1708.2 951.0 1708.3 952.0 1708.4 953.0 1708.6 954.0 1708.7 955.0 1708.8 956.0 1708.9 957.0 1709.1 958.0 1709.2 959.0 1709.3 960.0 1709.4 961.0 1709.6 962.0 1709.7 963.0 1709.8 963.9 1709.9 964.9 1710.0 965.9 1710.2 966.9 1710.2 967.1 M1712.4 984.9 1712.5 985.8 1712.6 986.8 1712.8 987.8 1712.9 988.8 1713.0 989.8 1713.1 990.8 1713.3 991.8 1713.4 992.7 1713.5 993.7 1713.6 994.7 1713.8 995.7 1713.9 996.7 1714.0 997.7 1714.1 998.7 1714.2 999.7 1714.4 1000.7 1714.5 1001.7 1714.6 1002.7 1714.7 1003.7 1714.9 1004.7 1715.0 1005.7 1715.1 1006.6 1715.2 1007.6 1715.4 1008.6 1715.5 1009.6 1715.6 1010.6 1715.7 1011.6 1715.8 1012.6 1716.0 1013.6 1716.1 1014.4 M1718.3 1032.2 1718.3 1032.5 1718.4 1033.5 1718.6 1034.5 1718.7 1035.4 1718.8 1036.4 1718.9 1037.4 1719.1 1038.4 1719.2 1039.4 1719.3 1040.4 1719.4 1041.4 1719.6 1042.4 1719.7 1043.4 1719.8 1044.4 1719.9 1045.4 1720.1 1046.4 1720.2 1047.4 1720.3 1048.4 1720.4 1049.3 1720.6 1050.3 1720.7 1051.3 1720.8 1052.3 1720.9 1053.3 1721.1 1054.3 1721.2 1055.3 1721.3 1056.3 1721.5 1057.3 1721.6 1058.3 1721.7 1059.3 1721.8 1060.3 1722.0 1061.3 1722.0 1061.7 M1724.3 1079.5 1724.4 1080.1 1724.6 1081.1 1724.7 1082.1 1724.8 1083.1 1724.9 1084.1 1725.1 1085.1 1725.2 1086.1 1725.3 1087.1 1725.5 1088.0 1725.6 1089.0 1725.7 1090.0 1725.9 1091.0 1726.0 1092.0 1726.1 1093.0 1726.2 1094.0 1726.4 1095.0 1726.5 1096.0 1726.6 1097.0 1726.8 1098.0 1726.9 1099.0 1727.0 1100.0 1727.1 1100.9 1727.3 1101.9 1727.4 1102.9 1727.5 1103.9 1727.7 1104.9 1727.8 1105.9 1727.9 1106.9 1728.0 1107.9 1728.2 1108.9 1728.2 1109.0 M1730.4 1126.8 1730.6 1127.7 1730.7 1128.7 1730.8 1129.7 1730.9 1130.7 1731.0 1131.7 1731.2 1132.7 1731.3 1133.7 1731.4 1134.7 1731.5 1135.7 1731.7 1136.7 1731.8 1137.7 1731.9 1138.7 1732.0 1139.7 1732.1 1140.7 1732.3 1141.6 1732.4 1142.6 1732.5 1143.6 1732.6 1144.6 1732.8 1145.6 1732.9 1146.6 1733.0 1147.6 1733.1 1148.6 1733.2 1149.6 1733.4 1150.6 1733.5 1151.6 1733.6 1152.6 1733.7 1153.6 1733.9 1154.6 1734.0 1155.6 1734.1 1156.3 M1736.2 1174.1 1736.2 1174.4 1736.4 1175.4 1736.5 1176.4 1736.6 1177.4 1736.7 1178.4 1736.8 1179.4 1736.9 1180.4 1737.1 1181.4 1737.2 1182.4 1737.3 1183.4 1737.4 1184.4 1737.5 1185.4 1737.7 1186.4 1737.8 1187.4 1737.9 1188.3 1738.0 1189.3 1738.1 1190.3 1738.2 1191.3 1738.3 1192.3 1738.5 1193.3 1738.6 1194.3 1738.7 1195.3 1738.8 1196.3 1738.9 1197.3 1739.0 1198.3 1739.2 1199.3 1739.3 1200.3 1739.4 1201.3 1739.5 1202.3 1739.6 1203.3 1739.6 1203.6 M1741.6 1221.4 1741.7 1222.1 1741.8 1223.1 1741.9 1224.1 1742.0 1225.1 1742.2 1226.1 1742.3 1227.1 1742.4 1228.1 1742.5 1229.1 1742.6 1230.1 1742.7 1231.1 1742.8 1232.1 1742.9 1233.1 1743.0 1234.1 1743.1 1235.1 1743.2 1236.1 1743.3 1237.1 1743.4 1238.1 1743.6 1239.1 1743.7 1240.1 1743.8 1241.1 1743.9 1242.0 1744.0 1243.0 1744.1 1244.0 1744.2 1245.0 1744.3 1246.0 1744.4 1247.0 1744.5 1248.0 1744.6 1249.0 1744.7 1250.0 1744.8 1250.9 M1746.7 1268.7 1746.7 1268.9 1746.8 1269.9 1746.9 1270.9 1747.0 1271.9 1747.1 1272.9 1747.3 1273.9 1747.4 1274.9 1747.5 1275.9 1747.6 1276.9 1747.7 1277.9 1747.8 1278.9 1747.9 1279.9 1748.0 1280.9 1748.1 1281.8 1748.2 1282.8 1748.3 1283.8 1748.4 1284.8 1748.5 1285.8 1748.7 1286.8 1748.8 1287.8 1748.9 1288.8 1749.0 1289.8 1749.1 1290.8 1749.2 1291.8 1749.3 1292.8 1749.4 1293.8 1749.5 1294.8 1749.6 1295.8 1749.7 1296.8 1749.9 1297.8 1749.9 1298.2 M1751.9 1316.0 1752.0 1316.7 1752.1 1317.7 1752.2 1318.6 1752.3 1319.6 1752.4 1320.6 1752.5 1321.6 1752.6 1322.6 1752.7 1323.6 1752.9 1324.6 1753.0 1325.6 1753.1 1326.6 1753.2 1327.6 1753.3 1328.6 1753.4 1329.6 1753.5 1330.6 1753.6 1331.6 1753.8 1332.6 1753.9 1333.6 1754.0 1334.6 1754.1 1335.6 1754.2 1336.5 1754.3 1337.5 1754.4 1338.5 1754.5 1339.5 1754.6 1340.5 1754.8 1341.5 1754.9 1342.5 1755.0 1343.5 1755.1 1344.5 1755.2 1345.5 M1757.2 1363.3 1757.2 1363.4 1757.3 1364.4 1757.4 1365.4 1757.5 1366.4 1757.6 1367.4 1757.8 1368.4 1757.9 1369.4 1758.0 1370.4 1758.1 1371.4 1758.2 1372.3 1758.3 1373.3 1758.4 1374.3 1758.5 1375.3 1758.6 1376.3 1758.7 1377.3 1758.8 1378.3 1758.9 1379.3 1759.1 1380.3 1759.2 1381.3 1759.3 1382.3 1759.4 1383.3 1759.5 1384.3 1759.6 1385.3 1759.7 1386.3 1759.8 1387.3 1759.9 1388.3 1760.0 1389.3 1760.1 1390.3 1760.2 1391.3 1760.3 1392.3 1760.4 1392.8 M1762.2 1410.6 1762.2 1411.2 1762.3 1412.2 1762.4 1413.2 1762.5 1414.2 1762.6 1415.2 1762.7 1416.2 1762.8 1417.2 1762.9 1418.1 1763.0 1419.1 1763.1 1420.1 1763.2 1421.1 1763.3 1422.1 1763.4 1423.1 1763.5 1424.1 1763.7 1425.1 1763.8 1426.1 1763.9 1427.1 1764.0 1428.1 1764.1 1429.1 1764.2 1430.1 1764.3 1431.1 1764.4 1432.1 1764.5 1433.1 1764.6 1434.1 1764.7 1435.1 1764.8 1436.1 1764.9 1437.1 1765.1 1438.0 1765.2 1439.0 1765.3 1440.0 1765.3 1440.1 M1767.5 1457.9 1767.5 1457.9 1767.6 1458.9 1767.7 1459.9 1767.9 1460.9 1768.0 1461.9 1768.1 1462.9 1768.3 1463.8 1768.4 1464.8 1768.6 1465.8 1768.7 1466.8 1768.8 1467.8 1769.0 1468.8 1769.1 1469.8 1769.3 1470.8 1769.4 1471.8 1769.6 1472.8 1769.7 1473.7 1769.9 1474.7 1770.1 1475.7 1770.2 1476.7 1770.4 1477.7 1770.5 1478.7 1770.7 1479.7 1770.8 1480.7 1771.0 1481.7 1771.2 1482.6 1771.3 1483.6 1771.5 1484.6 1771.6 1485.6 1771.8 1486.6 1771.9 1487.4 M1774.8 1505.2 1774.8 1505.4 1774.9 1506.4 1775.1 1507.4 1775.2 1508.3 1775.4 1509.3 1775.5 1510.3 1775.7 1511.3 1775.8 1512.3 1776.0 1513.3 1776.1 1514.3 1776.2 1515.3 1776.4 1516.3 1776.5 1517.3 1776.7 1518.3 1776.8 1519.2 1776.9 1520.2 1777.1 1521.2 1777.2 1522.2 1777.3 1523.2 1777.5 1524.2 1777.6 1525.2 1777.8 1526.2 1777.9 1527.2 1778.1 1528.2 1778.2 1529.2 1778.4 1530.1 1778.5 1531.1 1778.7 1532.1 1778.8 1533.1 1779.0 1534.1 1779.1 1534.7 M1782.5 1552.5 1782.6 1552.8 1782.8 1553.8 1783.1 1554.7 1783.3 1555.7 1783.6 1556.7 1783.8 1557.6 1784.1 1558.6 1784.4 1559.6 1784.6 1560.5 1784.9 1561.5 1785.2 1562.4 1785.5 1563.4 1785.9 1564.3 1786.2 1565.3 1786.5 1566.3 1786.9 1567.3 1787.3 1568.2 1787.7 1569.2 1788.1 1570.1 1788.6 1571.0 1789.0 1571.8 1789.5 1572.6 1790.1 1573.4 1790.7 1574.2 1791.3 1575.0 1792.1 1575.8 1792.9 1576.6 1793.7 1577.2 1794.5 1577.7 1795.4 1578.0 1796.3 1578.1 1797.3 1578.2" stroke="#EDB120"/>
</g>
<path d="M235.0 1486.9 L1351.4 1486.9 L1963.2 144.3" fill="none" stroke="#7E2F8E" stroke-width="11.6" stroke-linejoin="miter" stroke-dasharray="47.1 11.8 23.7 11.77"/>
<g fill="none" stroke-width="2.9" stroke-linecap="butt">
<path d="M235.0 1578.3 H2154.3" stroke="#262626"/>
<path d="M618.9 1578.3 V1562.3" stroke="#262626"/>
<path d="M1002.7 1578.3 V1562.3" stroke="#262626"/>
<path d="M1386.6 1578.3 V1562.3" stroke="#262626"/>
<path d="M1770.4 1578.3 V1562.3" stroke="#262626"/>
<path d="M235.0 61.5 V1579.8" stroke="#000"/>
<path d="M235.0 63.0 H251.0" stroke="#000"/>
<path d="M235.0 364.3 H251.0" stroke="#000"/>
<path d="M235.0 668.5 H251.0" stroke="#000"/>
<path d="M235.0 972.5 H251.0" stroke="#000"/>
<path d="M235.0 1276.8 H251.0" stroke="#000"/>
<path d="M235.0 1578.3 H251.0" stroke="#000"/>
<path d="M2154.3 61.5 V1579.8" stroke="#7E2F8E"/>
<path d="M2154.3 63.0 H2138.3" stroke="#7E2F8E"/>
<path d="M2154.3 231.4 H2138.3" stroke="#7E2F8E"/>
<path d="M2154.3 399.7 H2138.3" stroke="#7E2F8E"/>
<path d="M2154.3 568.1 H2138.3" stroke="#7E2F8E"/>
<path d="M2154.3 736.5 H2138.3" stroke="#7E2F8E"/>
<path d="M2154.3 904.8 H2138.3" stroke="#7E2F8E"/>
<path d="M2154.3 1073.2 H2138.3" stroke="#7E2F8E"/>
<path d="M2154.3 1241.6 H2138.3" stroke="#7E2F8E"/>
<path d="M2154.3 1409.9 H2138.3" stroke="#7E2F8E"/>
<path d="M2154.3 1578.3 H2138.3" stroke="#7E2F8E"/>
</g>
<g fill="none" stroke-width="2.9" opacity="0.5">
<path d="M1797.3 1578.2 1798.3 1578.3 1799.4 1578.3 1800.4 1578.3 1801.4 1578.3 1802.4 1578.3 1803.4 1578.3 1804.4 1578.3 1805.4 1578.3 1806.4 1578.3 1807.4 1578.3 1808.4 1578.3 1809.4 1578.3 1810.4 1578.3 1811.4 1578.3 1812.4 1578.3 1813.4 1578.3 1814.4 1578.3 1815.4 1578.3 1816.4 1578.3 1817.4 1578.3 1818.4 1578.3 1819.4 1578.3 1820.4 1578.3 1821.4 1578.3 1822.4 1578.3 1823.4 1578.3 1824.4 1578.3 1825.4 1578.3 1826.4 1578.3 1827.4 1578.3 1828.4 1578.3 1829.4 1578.3 1830.4 1578.3 1831.4 1578.3 1832.4 1578.3 1833.4 1578.3 1834.4 1578.3 1835.4 1578.3 1836.4 1578.3 1837.4 1578.3 1838.4 1578.3 1839.4 1578.3 1840.4 1578.3 1841.4 1578.3 1842.4 1578.3 1843.4 1578.3 1844.4 1578.3 1845.4 1578.3 1846.4 1578.3 1847.4 1578.3 1848.4 1578.3 1849.4 1578.3 1850.4 1578.3 1851.4 1578.3 1852.4 1578.3 1853.4 1578.3 1854.4 1578.3 1855.4 1578.3 1856.4 1578.3 1857.4 1578.3 1858.4 1578.3 1859.4 1578.3 1860.4 1578.3 1861.4 1578.3 1862.4 1578.3 1863.4 1578.3 1864.4 1578.3 1865.4 1578.3 1866.4 1578.3 1867.4 1578.3 1868.4 1578.3 1869.4 1578.3 1870.4 1578.3 1871.4 1578.3 1872.4 1578.3 1873.4 1578.3 1874.4 1578.3 1875.4 1578.3 1876.4 1578.3 1877.4 1578.3 1878.4 1578.3 1879.4 1578.3 1880.4 1578.3 1881.4 1578.3 1882.4 1578.3 1883.4 1578.3 1884.4 1578.3 1885.4 1578.3 1886.4 1578.3 1887.4 1578.3 1888.4 1578.3 1889.5 1578.3 1890.5 1578.3 1891.5 1578.3 1892.5 1578.3 1893.5 1578.3 1894.5 1578.3 1895.5 1578.3 1896.5 1578.3 1897.5 1578.3 1898.5 1578.3 1899.5 1578.3 1900.5 1578.3 1901.5 1578.3 1902.5 1578.3 1903.5 1578.3 1904.5 1578.3 1905.5 1578.3 1906.5 1578.3 1907.5 1578.3 1908.5 1578.3 1909.5 1578.3 1910.5 1578.3 1911.5 1578.3 1912.5 1578.3 1913.5 1578.3 1914.5 1578.3 1915.5 1578.3 1916.5 1578.3 1917.5 1578.3 1918.5 1578.3 1919.5 1578.3 1920.5 1578.3 1921.5 1578.3 1922.5 1578.3 1923.5 1578.3 1924.5 1578.3 1925.5 1578.3 1926.5 1578.3 1927.5 1578.3 1928.5 1578.3 1929.5 1578.3 1930.5 1578.3 1931.5 1578.3 1932.5 1578.3 1933.5 1578.3 1934.5 1578.3 1935.5 1578.3 1936.5 1578.3 1937.5 1578.3 1938.5 1578.3 1939.5 1578.3 1940.5 1578.3 1941.5 1578.3 1942.5 1578.3 1943.5 1578.3 1944.5 1578.3 1945.5 1578.3 1946.5 1578.3 1947.5 1578.3 1948.5 1578.3 1949.5 1578.3 1950.5 1578.3 1951.5 1578.3 1952.5 1578.3 1953.5 1578.3 1954.5 1578.3 1955.5 1578.3 1956.5 1578.3 1957.5 1578.3 1958.5 1578.3 1959.5 1578.3 1960.5 1578.3 1961.5 1578.3 1962.5 1578.3 1963.5 1578.3 1964.5 1578.3 1965.5 1578.3" stroke="#0072BD"/>
<path d="M1797.3 1578.2 1798.3 1578.3 1799.4 1578.3 1800.4 1578.3 1801.4 1578.3 1802.4 1578.3 1803.4 1578.3 1804.4 1578.3 1805.4 1578.3 1806.4 1578.3 1807.4 1578.3 1808.4 1578.3 1809.4 1578.3 1810.4 1578.3 1811.4 1578.3 1812.4 1578.3 1813.4 1578.3 1814.4 1578.3 1815.4 1578.3 1816.4 1578.3 1817.4 1578.3 1818.4 1578.3 1819.0 1578.3 M1827.8 1578.3 1828.4 1578.3 1829.4 1578.3 1830.4 1578.3 1831.4 1578.3 1832.4 1578.3 1833.4 1578.3 1833.8 1578.3 M1842.5 1578.3 1843.4 1578.3 1844.4 1578.3 1845.4 1578.3 1846.4 1578.3 1847.4 1578.3 1848.4 1578.3 1849.4 1578.3 1850.4 1578.3 1851.4 1578.3 1852.4 1578.3 1853.4 1578.3 1854.4 1578.3 1855.4 1578.3 1856.4 1578.3 1857.4 1578.3 1858.4 1578.3 1859.4 1578.3 1860.4 1578.3 1861.4 1578.3 1862.4 1578.3 1863.4 1578.3 1864.4 1578.3 1865.4 1578.3 1866.3 1578.3 M1875.1 1578.3 1875.4 1578.3 1876.4 1578.3 1877.4 1578.3 1878.4 1578.3 1879.4 1578.3 1880.4 1578.3 1881.1 1578.3 M1889.8 1578.3 1890.5 1578.3 1891.5 1578.3 1892.5 1578.3 1893.5 1578.3 1894.5 1578.3 1895.5 1578.3 1896.5 1578.3 1897.5 1578.3 1898.5 1578.3 1899.5 1578.3 1900.5 1578.3 1901.5 1578.3 1902.5 1578.3 1903.5 1578.3 1904.5 1578.3 1905.5 1578.3 1906.5 1578.3 1907.5 1578.3 1908.5 1578.3 1909.5 1578.3 1910.5 1578.3 1911.5 1578.3 1912.5 1578.3 1913.5 1578.3 1913.6 1578.3 M1922.4 1578.3 1922.5 1578.3 1923.5 1578.3 1924.5 1578.3 1925.5 1578.3 1926.5 1578.3 1927.5 1578.3 1928.4 1578.3 M1937.1 1578.3 1937.5 1578.3 1938.5 1578.3 1939.5 1578.3 1940.5 1578.3 1941.5 1578.3 1942.5 1578.3 1943.5 1578.3 1944.5 1578.3 1945.5 1578.3 1946.5 1578.3 1947.5 1578.3 1948.5 1578.3 1949.5 1578.3 1950.5 1578.3 1951.5 1578.3 1952.5 1578.3 1953.5 1578.3 1954.5 1578.3 1955.5 1578.3 1956.5 1578.3 1957.5 1578.3 1958.5 1578.3 1959.5 1578.3 1960.5 1578.3 1960.9 1578.3" stroke="#D95319"/>
<path d="M1797.3 1578.2 1798.2 1578.2 M1816.0 1578.3 1816.4 1578.3 1817.4 1578.3 1818.4 1578.3 1819.4 1578.3 1820.4 1578.3 1821.4 1578.3 1822.4 1578.3 1823.4 1578.3 1824.4 1578.3 1825.4 1578.3 1826.4 1578.3 1827.4 1578.3 1828.4 1578.3 1829.4 1578.3 1830.4 1578.3 1831.4 1578.3 1832.4 1578.3 1833.4 1578.3 1834.4 1578.3 1835.4 1578.3 1836.4 1578.3 1837.4 1578.3 1838.4 1578.3 1839.4 1578.3 1840.4 1578.3 1841.4 1578.3 1842.4 1578.3 1843.4 1578.3 1844.4 1578.3 1845.4 1578.3 1845.5 1578.3 M1863.3 1578.3 1863.4 1578.3 1864.4 1578.3 1865.4 1578.3 1866.4 1578.3 1867.4 1578.3 1868.4 1578.3 1869.4 1578.3 1870.4 1578.3 1871.4 1578.3 1872.4 1578.3 1873.4 1578.3 1874.4 1578.3 1875.4 1578.3 1876.4 1578.3 1877.4 1578.3 1878.4 1578.3 1879.4 1578.3 1880.4 1578.3 1881.4 1578.3 1882.4 1578.3 1883.4 1578.3 1884.4 1578.3 1885.4 1578.3 1886.4 1578.3 1887.4 1578.3 1888.4 1578.3 1889.5 1578.3 1890.5 1578.3 1891.5 1578.3 1892.5 1578.3 1892.8 1578.3 M1910.6 1578.3 1911.5 1578.3 1912.5 1578.3 1913.5 1578.3 1914.5 1578.3 1915.5 1578.3 1916.5 1578.3 1917.5 1578.3 1918.5 1578.3 1919.5 1578.3 1920.5 1578.3 1921.5 1578.3 1922.5 1578.3 1923.5 1578.3 1924.5 1578.3 1925.5 1578.3 1926.5 1578.3 1927.5 1578.3 1928.5 1578.3 1929.5 1578.3 1930.5 1578.3 1931.5 1578.3 1932.5 1578.3 1933.5 1578.3 1934.5 1578.3 1935.5 1578.3 1936.5 1578.3 1937.5 1578.3 1938.5 1578.3 1939.5 1578.3 1940.1 1578.3 M1957.9 1578.3 1958.5 1578.3 1959.5 1578.3 1960.5 1578.3 1961.5 1578.3 1962.5 1578.3 1963.5 1578.3 1964.5 1578.3 1965.5 1578.3" stroke="#EDB120"/>
</g>
<g font-size="59.0">
<text x="231.0" y="1665.0" text-anchor="middle" fill="#262626">-4000</text>
<text x="614.9" y="1665.0" text-anchor="middle" fill="#262626">-3000</text>
<text x="998.7" y="1665.0" text-anchor="middle" fill="#262626">-2000</text>
<text x="1385.1" y="1665.0" text-anchor="middle" fill="#262626">-1000</text>
<text x="1770.4" y="1665.0" text-anchor="middle" fill="#262626">0</text>
<text x="2155.8" y="1665.0" text-anchor="middle" fill="#262626">1000</text>
<text x="209.5" y="85.5" text-anchor="end" fill="#000">2.5</text>
<text x="209.5" y="389.0" text-anchor="end" fill="#000">2</text>
<text x="209.5" y="693.0" text-anchor="end" fill="#000">1.5</text>
<text x="209.5" y="994.5" text-anchor="end" fill="#000">1</text>
<text x="209.5" y="1299.0" text-anchor="end" fill="#000">0.5</text>
<text x="209.5" y="1603.5" text-anchor="end" fill="#000">0</text>
<text x="2178.0" y="85.6" text-anchor="start" fill="#7E2F8E">6</text>
<text x="2178.0" y="254.0" text-anchor="start" fill="#7E2F8E">4</text>
<text x="2178.0" y="422.3" text-anchor="start" fill="#7E2F8E">2</text>
<text x="2178.0" y="590.7" text-anchor="start" fill="#7E2F8E">0</text>
<text x="2178.0" y="759.1" text-anchor="start" fill="#7E2F8E">-2</text>
<text x="2178.0" y="930.0" text-anchor="start" fill="#7E2F8E">-4</text>
<text x="2178.0" y="1098.4" text-anchor="start" fill="#7E2F8E">-6</text>
<text x="2178.0" y="1266.8" text-anchor="start" fill="#7E2F8E">-8</text>
<text x="2178.0" y="1435.1" text-anchor="start" fill="#7E2F8E">-10</text>
<text x="2178.0" y="1603.5" text-anchor="start" fill="#7E2F8E">-12</text>
</g>
<text x="1194.6" y="1754" font-size="65.2" text-anchor="middle" fill="#262626">Cross<tspan font-size="54.3" dy="-2">−</tspan><tspan dy="2">Shore Distance [m]</tspan></text>
<text transform="translate(93.6 820.3) rotate(-90)" font-size="65.3" text-anchor="middle" fill="#000">Wave Height [m]</text>
<text transform="translate(2349.6 821.2) rotate(-90)" font-size="65.3" text-anchor="middle" fill="#7E2F8E">Water Depth [m]</text>
<rect x="311.2" y="1120" width="795" height="292.7" fill="#fff" stroke="#262626" stroke-width="2.9"/>
<g fill="none" stroke-width="2.9">
<path d="M328 1161.5 H505.1" stroke="#0072BD"/>
<path d="M328 1232.3 H505.1" stroke="#D95319" stroke-dasharray="23.6 8.7 6 8.7"/>
<path d="M328 1300.4 H505.1" stroke="#EDB120" stroke-dasharray="29.2 17.8"/>
</g>
<path d="M328 1371.0 H505.1" fill="none" stroke="#7E2F8E" stroke-width="11.6" stroke-dasharray="47.2 11.8 23.7 11.8"/>
<g font-size="53.2" fill="#000">
<text x="518.5" y="1184.2" letter-spacing="0.12">No WEC Scenario</text>
<text x="521.0" y="1254.6">WEC at 3000m offshore</text>
<text x="521.0" y="1324.7">WEC at 1100m offshore</text>
<text x="519.0" y="1395.8">Bathymetry</text>
</g>
</svg></body></html>
